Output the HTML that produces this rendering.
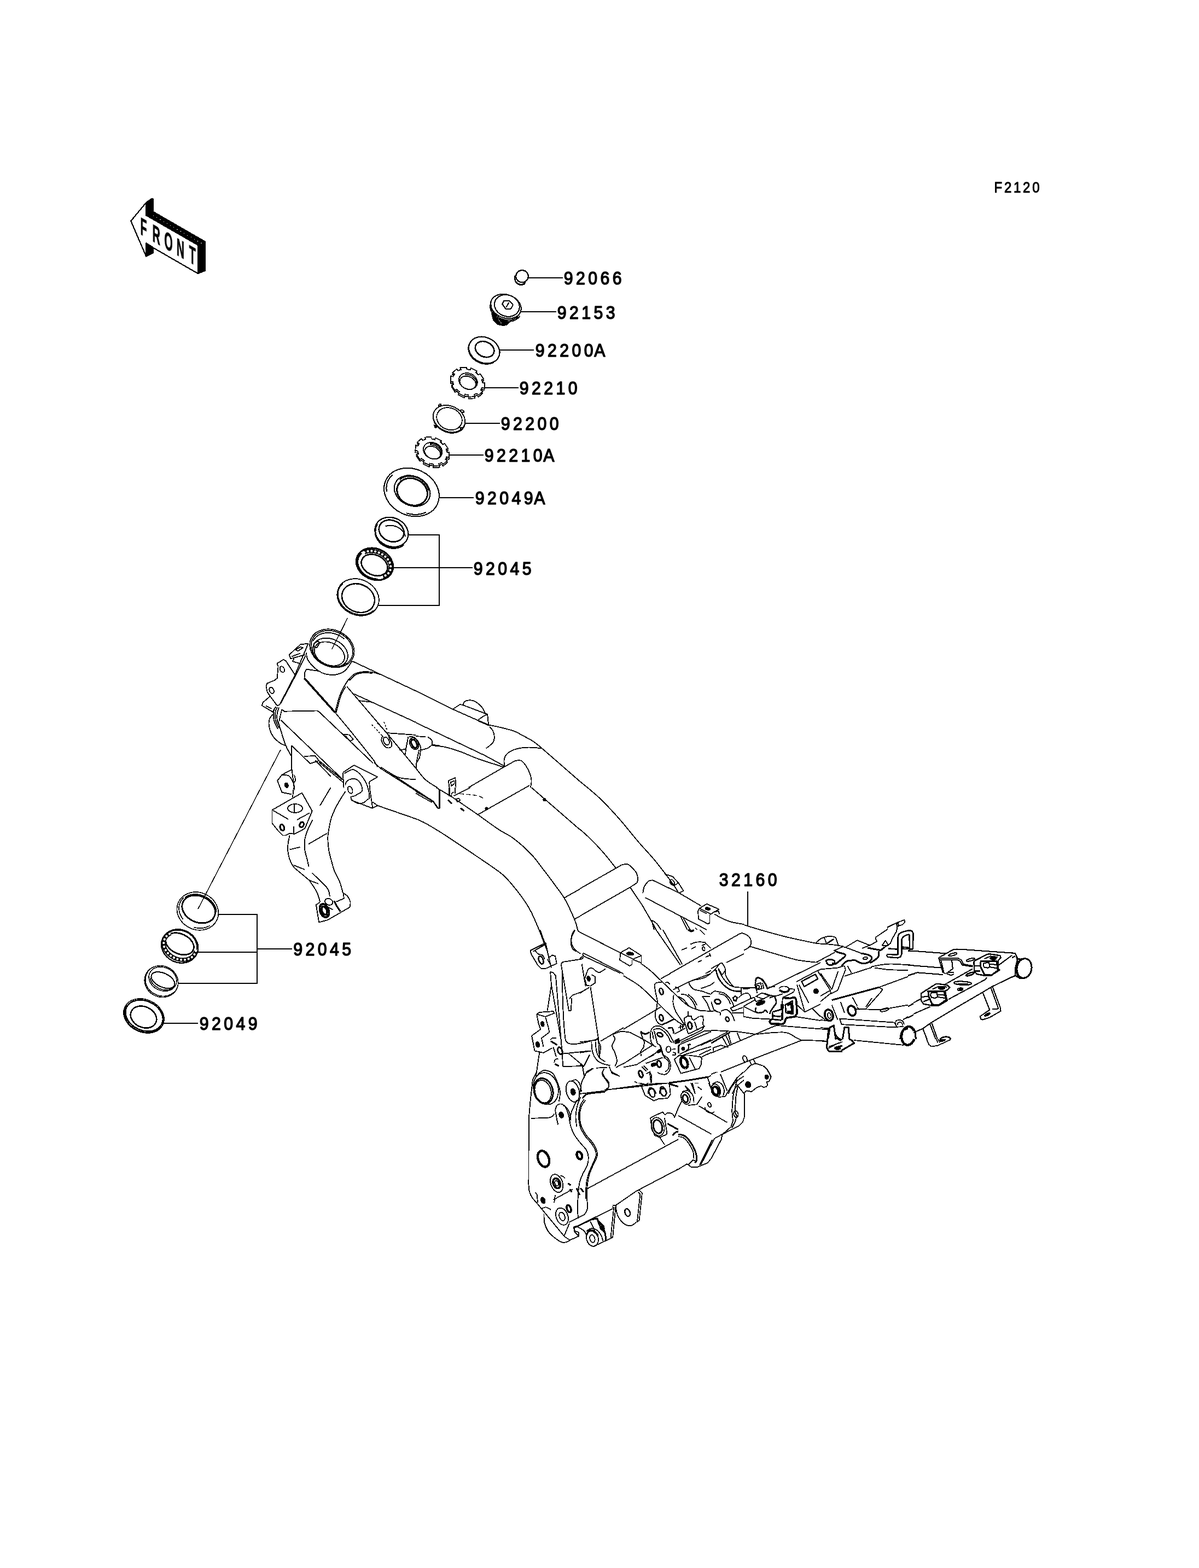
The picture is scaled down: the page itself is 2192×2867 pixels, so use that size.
<!DOCTYPE html>
<html lang="en">
<head>
<meta charset="utf-8">
<title>F2120 Frame</title>
<style>
html,body{margin:0;padding:0;background:#fff;}
body{width:2192px;height:2867px;overflow:hidden;}
svg{display:block;}
.d path,.d ellipse,.d line{fill:none;stroke:#000;stroke-linejoin:round;stroke-linecap:butt;}
.d .f{fill:#000;}
.d .w{fill:#fff;}
text{font-family:"Liberation Sans",sans-serif;fill:#000;}
</style>
</head>
<body>
<svg width="2192" height="2867" viewBox="0 0 2192 2867">
<rect width="2192" height="2867" fill="#fff"/>
<g class="d" shape-rendering="crispEdges" stroke-width="1.83">
<g id="00_leaders">
<path d="M965.0,508.0 L1029.0,508.0" stroke-width="2.0"/>
<path d="M953.0,570.0 L1017.0,570.0" stroke-width="2.0"/>
<path d="M913.0,640.0 L976.0,640.0" stroke-width="2.0"/>
<path d="M886.0,709.0 L948.0,709.0" stroke-width="2.0"/>
<path d="M849.0,774.0 L914.0,774.0" stroke-width="2.0"/>
<path d="M821.0,832.0 L884.0,832.0" stroke-width="2.0"/>
<path d="M802.0,910.0 L866.0,910.0" stroke-width="2.0"/>
<path d="M746.0,978.0 L803.0,978.0 L803.0,1107.0 L691.0,1107.0" stroke-width="2.0"/>
<path d="M718.0,1038.0 L864.0,1038.0" stroke-width="2.0"/>
<path d="M399.0,1672.0 L470.0,1672.0 L470.0,1798.0 L325.0,1798.0" stroke-width="2.0"/>
<path d="M361.0,1741.0 L470.0,1741.0" stroke-width="2.0"/>
<path d="M470.0,1735.0 L534.0,1735.0" stroke-width="2.0"/>
<path d="M298.0,1871.0 L362.0,1871.0" stroke-width="2.0"/>
<path d="M1367.0,1630.0 L1367.0,1694.0" stroke-width="2.0"/>
<path d="M513.0,1371.0 L362.0,1662.0" stroke-width="1.5"/>
</g>
<g id="01_front">
<path class="f" d="M267.1,370.5 L277.9,363.0 L280.0,364.1 L280.0,387.1 L374.8,441.8 L374.8,494.8 L362.0,500.2 L362.0,448.2 L267.1,393.6Z" stroke-width="2.2"/>
<path class="f" d="M267.1,444.5 L280.0,452.5 L280.0,462.1 L267.1,468.6Z" stroke-width="2.2"/>
<path d="M239.3,404.1 L267.1,370.5 L267.1,393.6 L362.0,448.2 L362.0,500.2 L267.1,445.5 L267.1,468.6Z" stroke-width="2.2"/>
<path d="M280,394 L370,446" style="stroke:#fff;stroke-width:1.2;stroke-dasharray:1.2 6"/>
</g>
<g id="02_parts_top">
<path d="M960.8,515.7 C960.6,515.9 960.1,516.5 959.7,516.9 C959.3,517.3 958.9,517.6 958.5,517.9 C958.0,518.2 957.6,518.5 957.1,518.7 C956.6,518.9 956.1,519.1 955.6,519.3 C955.1,519.5 954.6,519.6 954.1,519.7 C953.6,519.8 953.1,519.9 952.5,519.9 C952.0,519.9 951.5,519.9 951.0,519.8 C950.4,519.8 949.9,519.7 949.4,519.5 C948.9,519.4 948.4,519.2 947.9,519.0 C947.4,518.8 946.9,518.6 946.5,518.3 C946.0,518.1 945.6,517.8 945.2,517.4 C944.8,517.1 944.4,516.7 944.0,516.3 C943.6,515.9 943.3,515.5 943.0,515.1 C942.7,514.7 942.4,514.2 942.2,513.7 C941.9,513.2 941.7,512.7 941.5,512.2 C941.3,511.7 941.2,511.2 941.1,510.7 C941.0,510.2 940.9,509.6 940.9,509.1 C940.8,508.5 940.8,508.0 940.9,507.5 C940.9,506.9 941.0,506.4 941.1,505.9 C941.2,505.3 941.4,504.6 941.5,504.3" stroke-width="2.07"/>
<path d="M959.8,518.4 C959.6,518.5 959.0,519.0 958.5,519.3 C958.1,519.6 957.6,519.9 957.1,520.1 C956.6,520.3 956.1,520.5 955.6,520.7 C955.1,520.8 954.5,520.9 954.0,521.0 C953.5,521.1 952.9,521.1 952.4,521.1 C951.9,521.1 951.3,521.0 950.8,520.9 C950.3,520.8 949.7,520.7 949.2,520.5 C948.7,520.4 948.2,520.1 947.7,519.9 C947.3,519.7 946.8,519.4 946.3,519.1 C945.9,518.8 945.5,518.4 945.1,518.0 C944.7,517.7 944.3,517.3 944.0,516.8 C943.6,516.4 943.3,515.9 943.0,515.5 C942.8,515.0 942.5,514.5 942.3,514.0 C942.1,513.5 941.9,512.9 941.8,512.4 C941.7,511.9 941.6,511.3 941.5,510.8 C941.4,510.2 941.4,509.7 941.4,509.1 C941.5,508.6 941.6,507.7 941.6,507.4" stroke-width="2.07"/>
<ellipse cx="954.5" cy="505.2" rx="11.3" ry="11.1" stroke-width="2.28"/>
<path class="f" d="M899.2,574.0 L902.1,584.8 L910.5,593.1 L920.0,595.2 L926.0,593.7 L931.3,588.3 L922.4,586.5 L910.5,582.4 L903.3,577.0Z" stroke-width="2.07"/>
<ellipse cx="924.8" cy="560.1" rx="28.7" ry="21.3" transform="rotate(20 924.8 560.1)" stroke-width="2.07"/>
<ellipse cx="926.8" cy="558.9" rx="23.3" ry="19.4" transform="rotate(20 926.8 558.9)" stroke-width="2.07"/>
<path d="M950.3,578.0 C950.0,578.4 949.0,579.8 948.3,580.6 C947.5,581.4 946.6,582.2 945.7,582.8 C944.8,583.5 943.8,584.2 942.7,584.7 C941.7,585.3 940.5,585.8 939.3,586.2 C938.2,586.6 936.9,586.9 935.7,587.2 C934.4,587.4 933.1,587.6 931.7,587.7 C930.4,587.8 929.0,587.8 927.7,587.7 C926.3,587.6 924.9,587.5 923.5,587.2 C922.2,587.0 920.8,586.7 919.4,586.3 C918.1,585.9 916.7,585.4 915.4,584.9 C914.1,584.3 912.9,583.7 911.6,583.0 C910.4,582.4 909.2,581.6 908.1,580.8 C907.0,580.0 905.9,579.1 904.9,578.2 C903.9,577.3 903.0,576.4 902.2,575.4 C901.3,574.4 900.5,573.3 899.9,572.3 C899.2,571.2 898.6,570.1 898.1,569.0 C897.6,567.9 897.2,566.8 896.9,565.7 C896.6,564.6 896.4,563.4 896.3,562.3 C896.2,561.2 896.2,560.1 896.3,559.0 C896.3,557.9 896.5,556.8 896.8,555.8 C897.1,554.7 897.8,553.3 898.0,552.8" stroke-width="2.07"/>
<path d="M947.2,578.7 C946.8,579.1 945.6,580.2 944.7,580.9 C943.7,581.5 942.7,582.1 941.7,582.6 C940.7,583.1 939.5,583.6 938.4,584.0 C937.2,584.4 936.0,584.7 934.8,584.9 C933.6,585.1 932.3,585.3 931.0,585.3 C929.7,585.4 928.4,585.4 927.1,585.3 C925.8,585.2 924.5,585.0 923.2,584.8 C921.8,584.5 920.5,584.2 919.2,583.8 C918.0,583.4 916.7,582.9 915.5,582.3 C914.2,581.8 913.0,581.2 911.9,580.5 C910.7,579.8 909.6,579.1 908.6,578.3 C907.5,577.5 906.5,576.6 905.6,575.7 C904.7,574.9 903.9,573.9 903.1,572.9 C902.3,572.0 901.6,570.9 901.0,569.9 C900.4,568.9 899.9,567.8 899.5,566.7 C899.0,565.6 898.7,564.5 898.5,563.4 C898.2,562.3 898.1,561.2 898.0,560.2 C897.9,559.1 898.1,557.5 898.1,556.9" stroke-width="2.07"/>
<path d="M918.2,556.2 L921.2,550.2 L930.7,549.6 L937.9,557.4 L934.3,564.5 L924.8,564.8Z" stroke-width="2.07"/>
<path d="M930.1,553.2 L925.4,562.1" stroke-width="2.07"/>
<path d="M911,584 L917,592" style="stroke:#fff;stroke-width:1;stroke-dasharray:1 1.5"/>
<ellipse cx="885.2" cy="640.1" rx="29.3" ry="23.2" transform="rotate(25 885.2 640.1)" stroke-width="2.28"/>
<ellipse cx="886.1" cy="638.6" rx="17.9" ry="13.7" transform="rotate(25 886.1 638.6)" stroke-width="2.7"/>
<path d="M902.6,662.5 C902.1,662.8 900.5,663.6 899.4,664.0 C898.3,664.4 897.1,664.8 895.9,665.1 C894.6,665.3 893.4,665.5 892.1,665.6 C890.8,665.7 889.5,665.7 888.2,665.7 C886.9,665.6 885.5,665.5 884.2,665.3 C882.9,665.1 881.5,664.8 880.2,664.4 C878.9,664.0 877.6,663.6 876.3,663.0 C875.1,662.5 873.8,661.9 872.6,661.3 C871.4,660.6 870.2,659.9 869.1,659.1 C868.0,658.3 866.9,657.4 865.9,656.5 C864.9,655.6 864.0,654.7 863.1,653.7 C862.3,652.7 861.5,651.7 860.8,650.6 C860.0,649.6 859.4,648.5 858.8,647.3 C858.3,646.2 857.8,645.1 857.5,644.0 C857.1,642.8 856.8,641.7 856.6,640.5 C856.4,639.4 856.3,638.2 856.3,637.1 C856.3,636.0 856.4,634.8 856.6,633.7 C856.8,632.7 857.0,631.6 857.4,630.6 C857.8,629.5 858.2,628.5 858.8,627.6 C859.3,626.6 860.0,625.7 860.7,624.9 C861.4,624.0 862.6,622.9 863.0,622.5" stroke-width="2.07"/>
<path d="M882.6,718.8 L874.8,725.7 L872.2,722.6 L866.7,724.8 L868.5,728.3 L856.6,729.1 L856.4,725.6 L849.9,724.3 L849.1,727.6 L837.8,722.1 L840.0,719.5 L835.0,715.1 L832.0,717.1 L825.5,707.3 L829.3,706.6 L827.7,701.0 L823.6,700.8 L824.4,690.5 L828.3,692.0 L830.8,687.2 L827.1,685.0 L834.9,678.1 L837.5,681.2 L843.1,679.0 L841.3,675.6 L853.1,674.7 L853.3,678.2 L859.9,679.6 L860.6,676.2 L872.0,681.7 L869.7,684.4 L874.8,688.7 L877.8,686.7 L884.3,696.5 L880.5,697.2 L882.1,702.8 L886.2,703.0 L885.4,713.3 L881.4,711.8 L879.0,716.6Z" stroke-width="1.83"/>
<path class="w" d="M882.6,715.6 L874.8,722.5 L872.2,719.4 L866.7,721.6 L868.5,725.0 L856.6,725.9 L856.4,722.4 L849.9,721.0 L849.1,724.4 L837.8,718.9 L840.0,716.2 L835.0,711.9 L832.0,713.9 L825.5,704.1 L829.3,703.4 L827.7,697.8 L823.6,697.6 L824.4,687.3 L828.3,688.8 L830.8,684.0 L827.1,681.7 L834.9,674.8 L837.5,677.9 L843.1,675.8 L841.3,672.3 L853.1,671.5 L853.3,675.0 L859.9,676.3 L860.6,673.0 L872.0,678.5 L869.7,681.1 L874.8,685.4 L877.8,683.5 L884.3,693.3 L880.5,694.0 L882.1,699.6 L886.2,699.8 L885.4,710.1 L881.4,708.6 L879.0,713.4Z" stroke-width="1.83"/>
<ellipse cx="855.8" cy="696.9" rx="17.5" ry="14.2" transform="rotate(25 855.8 696.9)" stroke-width="1.83"/>
<ellipse cx="855.2" cy="699.9" rx="15.2" ry="11.5" transform="rotate(25 855.2 699.9)" stroke-width="1.83"/>
<path d="M850.3,685.0 C850.6,684.9 851.7,684.8 852.4,684.8 C853.2,684.7 853.9,684.8 854.7,684.9 C855.4,684.9 856.2,685.1 856.9,685.2 C857.7,685.4 858.4,685.6 859.2,685.9 C859.9,686.1 860.6,686.4 861.3,686.8 C862.0,687.1 862.7,687.5 863.4,687.9 C864.0,688.3 864.7,688.7 865.3,689.2 C865.9,689.7 866.4,690.2 866.9,690.8 C867.5,691.3 868.0,691.9 868.4,692.5 C868.8,693.0 869.2,693.6 869.6,694.3 C869.9,694.9 870.3,695.5 870.5,696.2 C870.8,696.8 871.0,697.5 871.1,698.1 C871.3,698.8 871.4,699.4 871.4,700.1 C871.4,700.7 871.4,701.3 871.4,702.0 C871.3,702.6 871.2,703.2 871.0,703.8 C870.8,704.4 870.6,705.0 870.4,705.6 C870.1,706.1 869.8,706.7 869.4,707.2 C869.0,707.7 868.6,708.1 868.1,708.6 C867.7,709.0 867.2,709.4 866.6,709.8 C866.1,710.1 865.5,710.5 864.9,710.8 C864.3,711.0 863.7,711.3 863.0,711.5 C862.3,711.7 861.3,711.9 860.9,712.0" stroke-width="1.83"/>
<ellipse cx="821.0" cy="767.1" rx="30.3" ry="23.3" transform="rotate(25 821.0 767.1)" stroke-width="1.83"/>
<ellipse class="w" cx="821.0" cy="765.7" rx="30.3" ry="23.3" transform="rotate(25 821.0 765.7)" stroke-width="1.83"/>
<ellipse cx="821.5" cy="765.7" rx="23.9" ry="19.7" transform="rotate(25 821.5 765.7)" stroke-width="1.83"/>
<path d="M801.3,742.1 L803.7,738.6 L806.1,739.2 L806.7,742.1Z" stroke-width="1.83"/>
<path d="M840.6,750.5 L844.8,749.3 L848.3,752.3 L847.7,754.6 L843.6,754.0Z" stroke-width="1.83"/>
<path d="M793.6,777.3 L796.5,779.0 L798.3,781.4 L796.0,782.6Z" stroke-width="1.83"/>
<path d="M841.2,782.0 L844.8,781.4 L846.0,783.8 L842.4,786.2Z" stroke-width="1.83"/>
<path d="M817.9,845.4 L810.2,852.1 L807.6,849.1 L802.2,851.2 L803.9,854.5 L792.3,855.3 L792.0,851.8 L785.5,850.5 L784.8,853.7 L773.5,848.3 L775.7,845.7 L770.7,841.5 L767.8,843.4 L761.2,833.8 L765.0,833.1 L763.4,827.6 L759.3,827.4 L760.0,817.4 L764.0,818.8 L766.3,814.1 L762.7,811.9 L770.4,805.3 L773.0,808.3 L778.4,806.2 L776.6,802.9 L788.3,802.1 L788.6,805.6 L795.1,806.9 L795.8,803.6 L807.0,809.1 L804.9,811.7 L809.9,815.9 L812.8,814.0 L819.4,823.6 L815.6,824.3 L817.2,829.8 L821.3,830.0 L820.6,840.0 L816.6,838.6 L814.3,843.3Z" stroke-width="1.83"/>
<path class="w" d="M817.9,842.2 L810.2,848.9 L807.6,845.9 L802.2,848.0 L803.9,851.3 L792.3,852.1 L792.0,848.6 L785.5,847.3 L784.8,850.5 L773.5,845.1 L775.7,842.5 L770.7,838.3 L767.8,840.2 L761.2,830.6 L765.0,829.9 L763.4,824.4 L759.3,824.2 L760.0,814.1 L764.0,815.6 L766.3,810.9 L762.7,808.7 L770.4,802.0 L773.0,805.1 L778.4,803.0 L776.6,799.6 L788.3,798.9 L788.6,802.3 L795.1,803.7 L795.8,800.4 L807.0,805.9 L804.9,808.4 L809.9,812.7 L812.8,810.8 L819.4,820.4 L815.6,821.0 L817.2,826.6 L821.3,826.7 L820.6,836.8 L816.6,835.3 L814.3,840.1Z" stroke-width="1.83"/>
<ellipse cx="791.2" cy="824.0" rx="17.8" ry="14.5" transform="rotate(25 791.2 824.0)" stroke-width="1.83"/>
<ellipse cx="790.8" cy="827.7" rx="15.1" ry="10.9" transform="rotate(25 790.8 827.7)" stroke-width="1.83"/>
<path d="M785.7,811.2 C786.1,811.1 787.2,811.0 788.0,811.0 C788.8,810.9 789.6,811.0 790.3,811.1 C791.1,811.1 791.9,811.3 792.7,811.4 C793.5,811.6 794.3,811.8 795.0,812.1 C795.8,812.4 796.6,812.7 797.3,813.0 C798.0,813.4 798.7,813.8 799.4,814.2 C800.1,814.7 800.8,815.1 801.4,815.6 C802.0,816.1 802.6,816.7 803.2,817.2 C803.7,817.8 804.2,818.4 804.7,819.0 C805.1,819.6 805.6,820.2 805.9,820.9 C806.3,821.5 806.6,822.2 806.9,822.9 C807.2,823.5 807.4,824.2 807.5,824.9 C807.7,825.6 807.8,826.3 807.8,826.9 C807.9,827.6 807.9,828.3 807.8,828.9 C807.7,829.6 807.6,830.2 807.4,830.9 C807.3,831.5 807.0,832.1 806.7,832.7 C806.5,833.2 806.1,833.8 805.7,834.3 C805.3,834.9 804.9,835.3 804.4,835.8 C803.9,836.3 803.4,836.7 802.9,837.1 C802.3,837.4 801.7,837.8 801.0,838.1 C800.4,838.4 799.7,838.6 799.0,838.8 C798.4,839.1 797.2,839.2 796.9,839.3" stroke-width="1.83"/>
<path d="M785.6,813.5 C786.0,813.5 787.0,813.3 787.7,813.3 C788.5,813.3 789.2,813.4 789.9,813.5 C790.7,813.5 791.4,813.7 792.2,813.8 C792.9,814.0 793.6,814.2 794.4,814.5 C795.1,814.7 795.8,815.0 796.5,815.4 C797.2,815.7 797.9,816.1 798.5,816.5 C799.2,816.9 799.8,817.3 800.4,817.8 C801.0,818.3 801.6,818.8 802.1,819.3 C802.6,819.8 803.1,820.4 803.5,820.9 C804.0,821.5 804.4,822.1 804.8,822.7 C805.1,823.3 805.4,823.9 805.7,824.5 C805.9,825.1 806.1,825.8 806.3,826.4 C806.5,827.0 806.6,827.6 806.6,828.2 C806.7,828.9 806.7,829.5 806.6,830.1 C806.6,830.7 806.5,831.3 806.3,831.8 C806.2,832.4 805.9,832.9 805.7,833.5 C805.4,834.0 805.1,834.5 804.8,835.0 C804.4,835.4 804.0,835.9 803.6,836.3 C803.1,836.7 802.6,837.1 802.1,837.4 C801.6,837.8 801.0,838.1 800.4,838.3 C799.8,838.6 799.2,838.8 798.6,839.0 C797.9,839.2 796.9,839.3 796.5,839.4" stroke-width="1.83"/>
<ellipse cx="752.5" cy="900.0" rx="51.9" ry="42.4" transform="rotate(25 752.5 900.0)" stroke-width="2.07"/>
<path d="M778.6,936.7 C777.7,937.1 775.1,938.2 773.3,938.7 C771.5,939.3 769.5,939.7 767.6,940.1 C765.7,940.4 763.7,940.6 761.7,940.7 C759.7,940.8 757.6,940.7 755.6,940.6 C753.5,940.4 751.4,940.2 749.4,939.8 C747.3,939.4 744.3,938.5 743.3,938.3" stroke-width="2.07"/>
<path d="M707.1,899.3 C707.0,898.3 706.5,895.4 706.4,893.5 C706.4,891.5 706.5,889.6 706.8,887.8 C707.0,885.9 707.5,884.0 708.1,882.3 C708.7,880.5 709.4,878.8 710.3,877.2 C711.3,875.6 712.3,874.0 713.5,872.6 C714.7,871.1 716.9,869.2 717.5,868.5" stroke-width="2.07"/>
<ellipse cx="753.6" cy="897.5" rx="34.0" ry="26.8" transform="rotate(25 753.6 897.5)" stroke-width="2.07"/>
<ellipse cx="753.6" cy="899.3" rx="28.6" ry="24.1" transform="rotate(25 753.6 899.3)" stroke-width="3.11"/>
<path d="M730.4,877.2 C730.9,876.8 732.4,875.6 733.5,874.9 C734.6,874.2 735.7,873.6 737.0,873.1 C738.2,872.6 739.5,872.1 740.8,871.8 C742.1,871.4 743.5,871.2 744.9,871.0 C746.2,870.8 747.7,870.7 749.1,870.7 C750.5,870.7 752.0,870.8 753.4,871.0 C754.9,871.2 756.4,871.5 757.8,871.8 C759.2,872.2 760.7,872.6 762.0,873.2 C763.4,873.7 764.8,874.3 766.1,875.0 C767.5,875.7 768.7,876.5 770.0,877.3 C771.2,878.1 772.4,879.0 773.5,880.0 C774.6,881.0 775.6,882.0 776.6,883.1 C777.5,884.2 778.4,885.3 779.2,886.4 C780.0,887.6 780.7,888.8 781.4,890.0 C782.0,891.3 782.5,892.5 782.9,893.8 C783.4,895.1 783.7,897.0 783.9,897.6" stroke-width="2.07"/>
<ellipse cx="715.9" cy="972.9" rx="31.4" ry="26.1" transform="rotate(25 715.9 972.9)" stroke-width="2.28"/>
<path d="M738.4,996.1 C737.9,996.5 736.4,997.8 735.4,998.4 C734.3,999.1 733.1,999.8 731.9,1000.3 C730.7,1000.8 729.5,1001.3 728.2,1001.7 C726.9,1002.1 725.5,1002.3 724.2,1002.5 C722.8,1002.7 721.4,1002.8 720.0,1002.9 C718.6,1002.9 717.2,1002.8 715.8,1002.6 C714.4,1002.5 712.9,1002.2 711.5,1001.9 C710.1,1001.5 708.7,1001.1 707.4,1000.6 C706.0,1000.1 704.7,999.5 703.4,998.8 C702.1,998.2 700.8,997.4 699.6,996.6 C698.4,995.8 697.3,994.9 696.2,993.9 C695.2,993.0 694.1,992.0 693.2,990.9 C692.3,989.9 691.4,988.7 690.6,987.6 C689.9,986.5 689.2,985.3 688.6,984.0 C688.0,982.8 687.4,981.6 687.0,980.3 C686.6,979.1 686.3,977.8 686.1,976.5 C685.9,975.2 685.7,974.0 685.7,972.7 C685.7,971.4 685.8,970.2 686.0,968.9 C686.1,967.7 686.4,966.5 686.8,965.3 C687.2,964.1 687.6,963.0 688.2,961.9 C688.8,960.8 689.9,959.2 690.2,958.7" stroke-width="2.07"/>
<path d="M729.8,999.6 C729.2,999.7 727.3,1000.4 726.0,1000.7 C724.7,1001.0 723.4,1001.2 722.0,1001.3 C720.7,1001.4 719.3,1001.5 717.9,1001.4 C716.5,1001.3 715.1,1001.2 713.7,1000.9 C712.3,1000.7 710.9,1000.4 709.6,1000.0 C708.2,999.5 706.8,999.0 705.5,998.5 C704.2,997.9 703.0,997.2 701.7,996.5 C700.5,995.8 699.3,995.0 698.2,994.1 C697.1,993.2 696.1,992.3 695.1,991.3 C694.1,990.3 693.2,989.2 692.3,988.1 C691.5,987.1 690.7,985.9 690.1,984.7 C689.4,983.6 688.8,982.4 688.3,981.1 C687.8,979.9 687.4,978.7 687.1,977.4 C686.8,976.1 686.6,974.9 686.5,973.6 C686.4,972.3 686.4,971.1 686.5,969.8 C686.6,968.6 687.0,966.8 687.1,966.2" stroke-width="2.07"/>
<ellipse cx="715.7" cy="970.7" rx="23.6" ry="19.1" transform="rotate(25 715.7 970.7)" stroke-width="2.7"/>
<path d="M704.8,962.4 C705.3,962.2 706.7,961.7 707.6,961.4 C708.6,961.2 709.7,961.0 710.7,960.9 C711.8,960.8 712.8,960.7 713.9,960.7 C715.0,960.7 716.1,960.8 717.2,961.0 C718.3,961.1 719.5,961.3 720.6,961.6 C721.7,961.9 722.8,962.2 723.8,962.6 C724.9,963.0 726.0,963.5 727.0,964.0 C728.0,964.5 729.0,965.1 730.0,965.8 C730.9,966.4 731.8,967.1 732.7,967.8 C733.6,968.5 734.4,969.3 735.2,970.1 C735.9,970.9 736.6,971.7 737.2,972.6 C737.9,973.4 738.5,974.3 739.0,975.2 C739.4,976.1 739.9,977.0 740.2,978.0 C740.6,978.9 740.9,980.3 741.1,980.8" stroke-width="2.07"/>
<ellipse cx="685.0" cy="1031.4" rx="34.7" ry="28.0" transform="rotate(25 685.0 1031.4)" stroke-width="3.11"/>
<ellipse cx="684.6" cy="1033.2" rx="25.0" ry="18.3" transform="rotate(25 684.6 1033.2)" stroke-width="2.7"/>
<path d="M690.5,1059.3 C689.7,1059.2 687.5,1059.1 686.0,1058.9 C684.5,1058.7 683.0,1058.4 681.5,1058.1 C680.0,1057.7 678.5,1057.2 677.1,1056.6 C675.6,1056.1 674.2,1055.4 672.8,1054.7 C671.4,1054.0 670.0,1053.2 668.8,1052.4 C667.5,1051.5 666.2,1050.6 665.1,1049.6 C663.9,1048.6 662.8,1047.5 661.8,1046.5 C660.8,1045.4 659.8,1044.2 659.0,1043.0 C658.2,1041.9 657.4,1040.6 656.7,1039.4 C656.1,1038.2 655.5,1036.9 655.1,1035.6 C654.6,1034.4 654.2,1033.1 654.0,1031.8 C653.8,1030.5 653.6,1029.2 653.6,1028.0 C653.5,1026.7 653.6,1025.4 653.8,1024.2 C654.0,1023.0 654.3,1021.8 654.7,1020.7 C655.1,1019.5 655.6,1018.4 656.2,1017.3 C656.8,1016.3 657.5,1015.3 658.3,1014.3 C659.0,1013.4 660.5,1012.1 660.9,1011.7" stroke-width="3.11"/>
<ellipse cx="654.6" cy="1092.0" rx="39.4" ry="32.4" transform="rotate(25 654.6 1092.0)" stroke-width="1.83"/>
<path d="M682.8,1116.5 C682.2,1117.0 680.5,1118.4 679.1,1119.2 C677.8,1120.0 676.4,1120.7 674.9,1121.3 C673.5,1121.9 671.9,1122.5 670.3,1122.9 C668.7,1123.3 667.1,1123.6 665.4,1123.7 C663.7,1123.9 662.0,1124.0 660.3,1124.0 C658.5,1124.0 656.8,1123.8 655.0,1123.6 C653.3,1123.3 651.5,1123.0 649.8,1122.5 C648.0,1122.1 646.3,1121.5 644.6,1120.9 C642.9,1120.2 641.3,1119.4 639.7,1118.6 C638.1,1117.7 636.5,1116.8 635.0,1115.8 C633.5,1114.8 632.1,1113.6 630.8,1112.5 C629.4,1111.3 628.2,1110.0 627.0,1108.8 C625.9,1107.5 624.8,1106.1 623.8,1104.7 C622.9,1103.3 622.0,1101.8 621.3,1100.4 C620.6,1098.9 619.9,1097.4 619.4,1095.9 C618.9,1094.4 618.5,1092.8 618.3,1091.3 C618.0,1089.8 617.9,1088.2 617.9,1086.7 C617.8,1085.2 618.0,1083.7 618.2,1082.3 C618.4,1080.8 618.8,1079.4 619.3,1078.0 C619.8,1076.6 620.4,1075.3 621.1,1074.0 C621.8,1072.7 622.7,1071.5 623.6,1070.4 C624.5,1069.2 626.2,1067.7 626.7,1067.2" stroke-width="1.83"/>
<ellipse cx="655.0" cy="1093.6" rx="30.9" ry="25.3" transform="rotate(25 655.0 1093.6)" stroke-width="2.56"/>
<path d="M635.3,1130.0 L607.1,1186.4" stroke-width="1.66"/>
</g>
<g id="03_parts_low">
<ellipse cx="361.4" cy="1665.9" rx="38.7" ry="33.9" transform="rotate(25 361.4 1665.9)" stroke-width="1.66"/>
<path d="M383.6,1692.4 C382.9,1692.7 380.8,1693.9 379.3,1694.5 C377.9,1695.1 376.3,1695.7 374.7,1696.1 C373.1,1696.5 371.5,1696.8 369.8,1696.9 C368.1,1697.1 366.4,1697.2 364.7,1697.1 C363.0,1697.1 361.3,1696.9 359.6,1696.6 C357.9,1696.4 355.3,1695.7 354.5,1695.5" stroke-width="1.66"/>
<path d="M334.6,1680.7 C334.2,1680.0 332.7,1678.1 331.9,1676.8 C331.1,1675.5 330.3,1674.1 329.7,1672.7 C329.1,1671.3 328.6,1669.9 328.2,1668.4 C327.8,1667.0 327.5,1665.5 327.4,1664.1 C327.2,1662.6 327.1,1661.1 327.2,1659.7 C327.2,1658.3 327.4,1656.8 327.6,1655.5 C327.9,1654.1 328.3,1652.7 328.8,1651.4 C329.3,1650.0 329.9,1648.8 330.6,1647.5 C331.3,1646.3 332.1,1645.1 333.0,1644.0 C333.9,1642.9 335.4,1641.5 335.9,1640.9" stroke-width="1.66"/>
<ellipse cx="363.2" cy="1662.5" rx="31.6" ry="23.8" transform="rotate(25 363.2 1662.5)" stroke-width="2.9"/>
<path d="M337.7,1641.4 C338.3,1641.0 339.9,1639.8 341.0,1639.1 C342.2,1638.4 343.5,1637.7 344.8,1637.2 C346.1,1636.7 347.5,1636.3 348.9,1635.9 C350.3,1635.6 351.8,1635.3 353.3,1635.2 C354.8,1635.0 356.4,1635.0 357.9,1635.0 C359.5,1635.1 361.0,1635.2 362.6,1635.4 C364.2,1635.7 365.8,1636.0 367.3,1636.4 C368.9,1636.8 370.4,1637.4 371.9,1638.0 C373.4,1638.6 374.9,1639.3 376.4,1640.0 C377.8,1640.8 379.2,1641.7 380.5,1642.6 C381.8,1643.5 383.1,1644.5 384.3,1645.6 C385.5,1646.6 386.6,1647.7 387.6,1648.9 C388.7,1650.0 389.6,1651.3 390.5,1652.5 C391.3,1653.8 392.1,1655.1 392.7,1656.4 C393.4,1657.7 393.9,1659.0 394.4,1660.4 C394.8,1661.7 395.2,1663.1 395.4,1664.4 C395.6,1665.7 395.7,1667.8 395.7,1668.4" stroke-width="1.66"/>
<ellipse cx="328.6" cy="1730.0" rx="34.3" ry="29.9" transform="rotate(25 328.6 1730.0)" stroke-width="2.28"/>
<ellipse cx="328.6" cy="1725.7" rx="27.1" ry="18.1" transform="rotate(25 328.6 1725.7)" stroke-width="2.7"/>
<path d="M305.2,1707.9 C305.7,1707.5 307.3,1706.1 308.5,1705.4 C309.6,1704.6 310.9,1704.0 312.2,1703.4 C313.5,1702.8 314.8,1702.3 316.2,1701.9 C317.6,1701.5 319.1,1701.2 320.6,1701.0 C322.0,1700.8 323.5,1700.7 325.0,1700.7 C326.6,1700.7 328.1,1700.8 329.6,1701.0 C331.1,1701.2 332.7,1701.5 334.1,1701.9 C335.6,1702.3 337.1,1702.8 338.6,1703.4 C340.0,1704.0 341.4,1704.7 342.8,1705.4 C344.1,1706.2 345.5,1707.1 346.7,1708.0 C347.9,1708.9 349.1,1709.9 350.2,1711.0 C351.3,1712.0 352.4,1713.1 353.3,1714.3 C354.2,1715.5 355.1,1716.7 355.9,1718.0 C356.6,1719.3 357.3,1720.6 357.8,1721.9 C358.4,1723.3 358.8,1724.6 359.2,1726.0 C359.5,1727.4 359.8,1728.8 359.9,1730.2 C360.0,1731.5 360.0,1732.9 359.9,1734.3 C359.8,1735.6 359.4,1737.6 359.3,1738.3" stroke-width="1.66"/>
<ellipse cx="295.0" cy="1794.6" rx="31.2" ry="28.4" transform="rotate(25 295.0 1794.6)" stroke-width="1.66"/>
<path d="M317.3,1814.5 C316.8,1814.9 315.4,1816.1 314.3,1816.9 C313.3,1817.6 312.1,1818.2 310.9,1818.8 C309.7,1819.3 308.5,1819.8 307.2,1820.2 C305.9,1820.5 304.6,1820.8 303.3,1821.1 C301.9,1821.3 300.6,1821.4 299.2,1821.4 C297.8,1821.5 296.4,1821.4 295.0,1821.2 C293.6,1821.1 292.2,1820.9 290.8,1820.5 C289.5,1820.2 288.1,1819.8 286.8,1819.3 C285.4,1818.8 284.1,1818.2 282.8,1817.5 C281.6,1816.9 280.3,1816.2 279.2,1815.3 C278.0,1814.5 276.9,1813.7 275.8,1812.7 C274.8,1811.8 273.8,1810.8 272.9,1809.7 C272.0,1808.7 271.1,1807.6 270.4,1806.4 C269.6,1805.3 269.0,1804.1 268.4,1802.9 C267.8,1801.7 267.3,1800.4 266.9,1799.2 C266.5,1797.9 266.2,1796.7 266.0,1795.4 C265.8,1794.1 265.7,1792.8 265.7,1791.6 C265.7,1790.3 265.8,1789.0 266.0,1787.8 C266.2,1786.5 266.5,1785.3 266.9,1784.1 C267.2,1783.0 267.7,1781.8 268.3,1780.7 C268.8,1779.6 269.9,1778.0 270.3,1777.5" stroke-width="1.66"/>
<ellipse cx="297.5" cy="1790.0" rx="26.2" ry="21.2" transform="rotate(25 297.5 1790.0)" stroke-width="1.66"/>
<ellipse cx="297.9" cy="1792.1" rx="22.9" ry="12.6" transform="rotate(25 297.9 1792.1)" stroke-width="2.07"/>
<path d="M316.2,1806.0 C315.9,1806.3 314.8,1807.1 313.9,1807.6 C313.1,1808.0 312.2,1808.4 311.3,1808.7 C310.4,1809.1 309.4,1809.3 308.4,1809.5 C307.4,1809.7 306.3,1809.9 305.3,1809.9 C304.2,1810.0 303.1,1810.0 302.0,1810.0 C300.9,1809.9 299.7,1809.8 298.6,1809.6 C297.5,1809.4 296.4,1809.1 295.2,1808.8 C294.1,1808.5 293.0,1808.1 291.9,1807.7 C290.8,1807.2 289.7,1806.7 288.7,1806.2 C287.7,1805.6 286.7,1805.0 285.7,1804.3 C284.7,1803.7 283.8,1803.0 282.9,1802.3 C282.0,1801.5 281.2,1800.7 280.5,1799.9 C279.7,1799.1 279.0,1798.3 278.4,1797.4 C277.7,1796.5 277.2,1795.6 276.7,1794.7 C276.2,1793.8 275.7,1792.9 275.4,1792.0 C275.1,1791.1 274.8,1790.1 274.6,1789.2 C274.4,1788.3 274.3,1786.9 274.3,1786.5" stroke-width="1.66"/>
<ellipse cx="263.0" cy="1857.5" rx="38.4" ry="29.8" transform="rotate(25 263.0 1857.5)" stroke-width="1.66"/>
<ellipse cx="263.6" cy="1857.1" rx="35.7" ry="26.8" transform="rotate(25 263.6 1857.1)" stroke-width="2.59"/>
<path d="M294.6,1877.6 C294.1,1878.1 292.8,1879.7 291.7,1880.6 C290.7,1881.6 289.5,1882.4 288.3,1883.2 C287.1,1884.0 285.8,1884.7 284.4,1885.2 C283.0,1885.8 281.5,1886.3 280.0,1886.7 C278.5,1887.1 276.9,1887.4 275.3,1887.6 C273.7,1887.8 272.0,1887.9 270.3,1887.9 C268.6,1887.8 266.9,1887.7 265.2,1887.5 C263.5,1887.3 261.8,1887.0 260.1,1886.5 C258.4,1886.1 256.6,1885.6 255.0,1885.0 C253.3,1884.4 251.7,1883.7 250.1,1882.9 C248.5,1882.1 246.9,1881.2 245.4,1880.2 C243.9,1879.3 242.5,1878.2 241.1,1877.2 C239.8,1876.1 238.5,1874.9 237.3,1873.7 C236.1,1872.4 235.0,1871.2 234.0,1869.8 C233.0,1868.5 232.1,1867.2 231.3,1865.8 C230.5,1864.4 229.8,1863.0 229.2,1861.5 C228.6,1860.1 228.2,1858.6 227.8,1857.2 C227.5,1855.8 227.3,1854.3 227.2,1852.9 C227.1,1851.5 227.1,1850.0 227.3,1848.7 C227.4,1847.3 227.7,1845.9 228.1,1844.6 C228.5,1843.3 229.0,1842.0 229.6,1840.8 C230.2,1839.6 231.5,1838.0 231.8,1837.4" stroke-width="1.66"/>
<ellipse cx="262.5" cy="1859.6" rx="24.7" ry="18.9" transform="rotate(25 262.5 1859.6)" stroke-width="2.59"/>
</g>
<g id="04_balls">
<path d="M665.9,1010.1 L667.5,1009.4 L669.1,1008.8 L670.8,1008.3 L672.6,1007.9 L674.4,1007.6 L676.3,1007.5 L678.3,1007.4 L680.2,1007.5 L682.2,1007.7 L684.3,1008.0 L686.3,1008.4 L688.3,1008.9 L690.3,1009.5 L692.2,1010.2 L694.2,1011.1 L696.1,1012.0 L697.9,1013.0 L699.7,1014.1 L701.4,1015.3 L703.0,1016.6 L704.6,1017.9 L706.0,1019.3 L707.4,1020.7 L708.6,1022.2 L709.8,1023.8 L710.8,1025.3 L711.7,1026.9 L712.4,1028.6 L713.1,1030.2 L713.6,1031.8 L714.0,1033.5 L714.2,1035.1 L714.3,1036.7 L714.2,1038.3 L714.1,1039.9 L713.7,1041.4 L713.3,1042.8 L712.7,1044.2 L712.0,1045.6 L711.1,1046.9 L710.1,1048.1 L709.0,1049.2 L707.8,1050.2 L706.5,1051.1 L705.1,1052.0 L703.6,1052.7 L702.0,1053.4 L700.3,1053.9" style="stroke:#000;stroke-width:7.5;shape-rendering:auto"/>
<path d="M665.9,1010.1 L667.5,1009.4 L669.1,1008.8 L670.8,1008.3 L672.6,1007.9 L674.4,1007.6 L676.3,1007.5 L678.3,1007.4 L680.2,1007.5 L682.2,1007.7 L684.3,1008.0 L686.3,1008.4 L688.3,1008.9 L690.3,1009.5 L692.2,1010.2 L694.2,1011.1 L696.1,1012.0 L697.9,1013.0 L699.7,1014.1 L701.4,1015.3 L703.0,1016.6 L704.6,1017.9 L706.0,1019.3 L707.4,1020.7 L708.6,1022.2 L709.8,1023.8 L710.8,1025.3 L711.7,1026.9 L712.4,1028.6 L713.1,1030.2 L713.6,1031.8 L714.0,1033.5 L714.2,1035.1 L714.3,1036.7 L714.2,1038.3 L714.1,1039.9 L713.7,1041.4 L713.3,1042.8 L712.7,1044.2 L712.0,1045.6 L711.1,1046.9 L710.1,1048.1 L709.0,1049.2 L707.8,1050.2 L706.5,1051.1 L705.1,1052.0 L703.6,1052.7 L702.0,1053.4 L700.3,1053.9" style="stroke:#fff;stroke-width:4.2;stroke-dasharray:0.1 6.8;stroke-linecap:round;shape-rendering:auto"/>
<path d="M358.1,1738.6 L357.6,1740.6 L356.9,1742.4 L356.0,1744.1 L354.9,1745.8 L353.7,1747.3 L352.2,1748.8 L350.7,1750.1 L348.9,1751.2 L347.1,1752.2 L345.1,1753.1 L343.0,1753.8 L340.9,1754.4 L338.6,1754.7 L336.3,1755.0 L333.9,1755.0 L331.5,1754.9 L329.1,1754.6 L326.6,1754.1 L324.2,1753.5 L321.9,1752.7 L319.5,1751.8 L317.3,1750.7 L315.1,1749.5 L313.0,1748.1 L311.0,1746.6 L309.1,1745.0 L307.4,1743.3 L305.8,1741.5 L304.4,1739.7 L303.1,1737.7 L302.0,1735.7 L301.1,1733.7 L300.3,1731.6 L299.8,1729.6 L299.4,1727.5 L299.3,1725.4 L299.3,1723.4 L299.6,1721.4 L300.0,1719.5 L300.7,1717.6 L301.5,1715.8 L302.5,1714.1 L303.7,1712.6 L305.0,1711.1 L306.5,1709.7 L308.2,1708.5 L310.0,1707.4 L311.9,1706.5" style="stroke:#000;stroke-width:7.5;shape-rendering:auto"/>
<path d="M358.1,1738.6 L357.6,1740.6 L356.9,1742.4 L356.0,1744.1 L354.9,1745.8 L353.7,1747.3 L352.2,1748.8 L350.7,1750.1 L348.9,1751.2 L347.1,1752.2 L345.1,1753.1 L343.0,1753.8 L340.9,1754.4 L338.6,1754.7 L336.3,1755.0 L333.9,1755.0 L331.5,1754.9 L329.1,1754.6 L326.6,1754.1 L324.2,1753.5 L321.9,1752.7 L319.5,1751.8 L317.3,1750.7 L315.1,1749.5 L313.0,1748.1 L311.0,1746.6 L309.1,1745.0 L307.4,1743.3 L305.8,1741.5 L304.4,1739.7 L303.1,1737.7 L302.0,1735.7 L301.1,1733.7 L300.3,1731.6 L299.8,1729.6 L299.4,1727.5 L299.3,1725.4 L299.3,1723.4 L299.6,1721.4 L300.0,1719.5 L300.7,1717.6 L301.5,1715.8 L302.5,1714.1 L303.7,1712.6 L305.0,1711.1 L306.5,1709.7 L308.2,1708.5 L310.0,1707.4 L311.9,1706.5" style="stroke:#fff;stroke-width:4.2;stroke-dasharray:0.1 6.8;stroke-linecap:round;shape-rendering:auto"/>
</g>
<g id="10_head">
<ellipse cx="606.9" cy="1185.4" rx="42.1" ry="33.3" transform="rotate(25 606.9 1185.4)" stroke-width="1.83"/>
<ellipse cx="606.9" cy="1185.9" rx="39.6" ry="31.4" transform="rotate(25 606.9 1185.9)" stroke-width="1.83"/>
<ellipse cx="603.8" cy="1193.1" rx="33.6" ry="24.5" transform="rotate(25 603.8 1193.1)" stroke-width="1.83"/>
<ellipse cx="602.3" cy="1195.5" rx="29.1" ry="20.1" transform="rotate(25 602.3 1195.5)" stroke-width="1.83"/>
<path d="M572.6,1172.1 C572.9,1171.4 573.9,1169.5 574.7,1168.3 C575.6,1167.2 576.5,1166.0 577.6,1165.0 C578.7,1164.0 579.8,1163.1 581.1,1162.2 C582.4,1161.4 583.7,1160.6 585.1,1160.0 C586.6,1159.3 588.1,1158.8 589.6,1158.3 C591.2,1157.9 592.8,1157.5 594.5,1157.3 C596.2,1157.1 597.9,1157.0 599.6,1157.0 C601.4,1157.0 603.1,1157.1 604.9,1157.3 C606.6,1157.5 608.4,1157.8 610.2,1158.3 C611.9,1158.7 613.7,1159.3 615.4,1159.9 C617.1,1160.6 618.8,1161.3 620.4,1162.2 C622.0,1163.0 623.6,1163.9 625.1,1165.0 C626.6,1166.0 628.7,1167.7 629.4,1168.2" stroke-width="1.83"/>
<path d="M560.0,1193.6 C560.4,1195.7 560.3,1201.6 562.7,1206.1 C565.1,1210.5 570.0,1216.3 574.3,1220.4 C578.6,1224.4 583.8,1227.9 588.6,1230.2 C593.3,1232.4 598.1,1233.3 602.9,1233.8 C607.6,1234.2 612.4,1234.2 617.1,1232.9 C621.9,1231.5 627.0,1229.7 631.4,1225.7 C635.9,1221.7 641.8,1211.6 643.9,1208.8" stroke-width="1.83"/>
<path d="M630.5,1140.0 L606.8,1186.8" stroke-width="1.59"/>
<path d="M574.3,1176.6 L581.4,1172.1 L584.6,1175.7 L578.8,1184.6 L573.9,1182.9Z" stroke-width="1.83"/>
<path d="M563.6,1176.6 L549.3,1178.4 L528.8,1197.1 L531.4,1204.3 L558.2,1197.1" stroke-width="1.83"/>
<path d="M540.4,1188.2 L549.3,1182.9 L553.8,1184.3 L544.8,1190.4Z" stroke-width="1.83"/>
<path d="M533.2,1200.4 L549.3,1194.5" stroke-width="1.83"/>
<path d="M537.1,1204.3 L535.0,1209.3 L551.1,1214.1" stroke-width="1.83"/>
<path d="M538.6,1232.9 L522.5,1208.2 L518.0,1206.1 L506.4,1213.2 L508.6,1218.6 L506.8,1240.0 L502.0,1243.9 L488.6,1249.3 L486.4,1254.3 L488.6,1265.0 L493.9,1273.0 L480.5,1284.6 L478.8,1290.0 L498.4,1301.6 L502.5,1295.0" stroke-width="1.83"/>
<path d="M493.9,1273.0 L506.8,1290.4 L511.4,1288.2" stroke-width="1.83"/>
<path d="M485.9,1290.4 L496.6,1295.7" stroke-width="1.83"/>
<ellipse cx="515.9" cy="1223.9" rx="3.9" ry="5.9" transform="rotate(-25 515.9 1223.9)" stroke-width="1.83"/>
<ellipse cx="496.6" cy="1262.3" rx="3.9" ry="5.9" transform="rotate(-25 496.6 1262.3)" stroke-width="1.83"/>
<path d="M563.2,1177.5 L538.2,1236.4 L510.9,1289.1" stroke-width="1.83"/>
<path d="M558.8,1198.6 L535.0,1245.4 L513.6,1285.5" stroke-width="1.83"/>
<path d="M504.6,1291.8 C503.9,1293.3 500.8,1296.5 500.2,1300.7 C499.5,1304.9 499.4,1311.4 500.7,1316.8 C502.0,1322.1 506.7,1330.2 507.9,1332.9" stroke-width="1.83"/>
<path d="M506.8,1293.2 C506.2,1294.8 503.7,1298.6 503.2,1302.5 C502.7,1306.4 502.6,1312.0 503.8,1316.8 C504.9,1321.5 509.0,1328.7 510.0,1331.1" stroke-width="1.83"/>
<path d="M510.0,1293.6 C509.5,1295.4 507.3,1300.4 506.8,1304.3 C506.2,1308.2 506.0,1312.6 506.8,1316.8 C507.6,1321.0 511.0,1327.2 511.8,1329.3" stroke-width="1.83"/>
<path d="M498.4,1306.1 C497.4,1307.9 493.0,1312.3 492.1,1316.8 C491.2,1321.2 491.5,1327.5 493.0,1332.9 C494.5,1338.2 497.6,1344.5 501.1,1348.9 C504.5,1353.4 510.0,1357.3 513.6,1359.6 C517.1,1362.0 521.0,1362.6 522.5,1363.2" stroke-width="1.83"/>
<path d="M515.4,1297.1 C514.9,1298.9 513.5,1304.3 512.7,1307.9 C511.8,1311.4 510.7,1316.8 510.4,1318.6" stroke-width="1.83"/>
<path d="M515.4,1297.1 L519.8,1300.7 L580.0,1299.5 L583.6,1301.8 L682.3,1395.7" stroke-width="1.83"/>
<path d="M513.6,1316.8 L627.0,1425.7" stroke-width="1.83"/>
<path d="M556.4,1240.0 L557.3,1229.3 L560.0,1223.6 L583.2,1227.1" stroke-width="1.83"/>
<path d="M556.4,1240.0 L612.7,1302.9" stroke-width="3.66"/>
<path d="M612.7,1302.9 C613.1,1301.0 614.0,1296.8 615.4,1291.8 C616.7,1286.8 618.3,1279.3 620.7,1273.0 C623.1,1266.8 626.9,1259.3 629.6,1254.3 C632.4,1249.2 635.9,1244.6 637.1,1242.7" stroke-width="1.83"/>
<path d="M614.5,1302.9 C615.0,1301.0 616.1,1296.8 617.5,1291.8 C618.9,1286.8 620.5,1279.1 622.9,1273.0 C625.2,1266.9 630.3,1258.2 631.8,1255.2" stroke-width="1.83"/>
<path d="M636.8,1243.2 C638.6,1241.5 643.0,1235.3 647.5,1232.9 C652.0,1230.4 657.9,1229.0 663.6,1228.4 C669.2,1227.8 676.3,1228.5 681.4,1229.3 C686.5,1230.0 692.1,1232.3 694.3,1232.9" stroke-width="1.83"/>
<path d="M638.6,1244.5 C640.4,1242.8 645.1,1236.7 649.3,1234.3 C653.5,1231.9 658.2,1230.7 663.6,1230.2 C668.9,1229.6 678.5,1230.9 681.4,1231.1" stroke-width="1.83"/>
<path d="M643.9,1208.8 L760.0,1263.2" stroke-width="1.83"/>
<path d="M634.1,1255.2 L708.2,1341.8 L760.0,1404.3" stroke-width="1.83"/>
<path d="M647.5,1268.9 L760.0,1320.7" stroke-width="1.83"/>
<path d="M656.4,1281.1 L679.6,1283.8" stroke-width="1.83"/>
<path d="M613.2,1303.4 L642.1,1338.2 L683.2,1390.0 L690.4,1402.5" stroke-width="1.83"/>
<path d="M627.0,1342.7 L638.6,1343.6 L645.7,1351.6 L640.4,1355.2 L631.4,1345.4" stroke-width="1.83"/>
<ellipse cx="706.4" cy="1355.2" rx="5.0" ry="7.5" transform="rotate(-25 706.4 1355.2)" stroke-width="1.83"/>
<path d="M699.3,1345.4 C699.0,1346.8 696.6,1350.9 697.5,1354.3 C698.4,1357.7 702.0,1363.8 704.6,1365.9 C707.3,1368.0 711.6,1367.8 713.6,1366.8 C715.5,1365.7 716.8,1363.2 716.2,1359.6 C715.7,1356.1 711.0,1347.7 710.0,1345.4" stroke-width="1.83"/>
<path d="M706.4,1340.0 L760.0,1343.9" stroke-width="1.83"/>
<path d="M680,1325 L703,1350 M690,1322 L712,1345 M702,1320 L708,1336" style="stroke-dasharray:3 3;stroke-width:1.6"/>
<path d="M508.2,1318.6 C509.1,1321.5 511.2,1329.0 513.6,1336.4 C516.0,1343.9 519.3,1355.5 522.5,1363.2 C525.7,1371.0 531.1,1379.6 532.9,1382.9" stroke-width="1.83"/>
<path d="M533.2,1363.2 L533.2,1404.3 L537.7,1440.0" stroke-width="1.83"/>
<path d="M533.2,1363.2 L567.1,1396.2 L583.2,1390.9 L576.1,1382.0 L556.4,1382.9" stroke-width="1.83"/>
<path d="M576.1,1390.0 L604.6,1419.5" stroke-width="1.83"/>
<path d="M583.2,1390.9 L626.1,1425.7" stroke-width="1.83"/>
<path d="M583.2,1393.6 L627.0,1430.2" stroke-width="1.83"/>
<path d="M533.3,1407.1 L515.5,1416.7 L507.1,1427.4 L515.5,1448.8 L533.3,1452.4" stroke-width="1.83"/>
<path d="M515.5,1416.7 C517.7,1417.1 525.0,1416.3 528.6,1419.0 C532.1,1421.8 535.2,1429.0 536.9,1433.3 C538.6,1437.7 538.3,1443.3 538.6,1445.2" stroke-width="1.83"/>
<path d="M538.1,1416.7 L540.5,1426.2 L536.2,1433.3" stroke-width="1.83"/>
<ellipse class="f" cx="523.8" cy="1435.7" rx="2.9" ry="4.3" transform="rotate(-15 523.8 1435.7)" stroke-width="1.83"/>
</g>
<g id="11_b">
<path d="M760.0,1263.2 L827.9,1296.8 L870.7,1315.9 L893.9,1325.7" stroke-width="1.83"/>
<path d="M893.9,1325.7 C896.9,1326.3 904.3,1327.5 911.8,1329.3 C919.2,1331.1 931.1,1333.8 938.6,1336.4 C946.0,1339.1 950.5,1342.2 956.4,1345.4 C962.4,1348.5 968.5,1351.3 974.3,1355.2 C980.1,1359.0 988.4,1366.3 991.2,1368.6" stroke-width="1.83"/>
<path d="M991.2,1368.6 L1060.0,1428.6" stroke-width="1.83"/>
<path d="M827.9,1296.8 L841.2,1287.9 L847.5,1289.6" stroke-width="1.83"/>
<path d="M846.6,1289.1 C847.1,1288.1 847.1,1284.3 849.3,1282.9 C851.5,1281.4 856.4,1280.0 860.0,1280.2 C863.6,1280.3 867.1,1281.5 870.7,1283.8 C874.3,1286.0 878.6,1289.9 881.4,1293.6 C884.3,1297.3 886.6,1304.0 887.7,1306.1" stroke-width="1.83"/>
<path d="M847.5,1289.6 L891.2,1306.1 L893.0,1324.8" stroke-width="1.83"/>
<path d="M891.2,1306.1 L885.0,1308.8 L873.4,1316.8" stroke-width="1.83"/>
<path d="M874.3,1317.7 L893.0,1325.7" stroke-width="2.68"/>
<path d="M894.8,1328.4 C895.9,1329.7 899.6,1333.3 901.1,1336.4 C902.6,1339.6 903.8,1343.6 903.8,1347.1 C903.8,1350.7 903.6,1354.3 901.1,1357.9 C898.5,1361.4 890.7,1366.8 888.6,1368.6" stroke-width="1.83"/>
<path d="M760.0,1321.2 L885.9,1381.1 L922.9,1401.1" stroke-width="1.83"/>
<path d="M760.0,1346.2 L777.9,1347.1" stroke-width="1.83"/>
<path d="M790.4,1363.2 C794.2,1363.7 805.2,1364.1 813.6,1365.9 C821.9,1367.7 829.9,1370.2 840.4,1373.9 C850.8,1377.6 862.7,1383.5 876.1,1388.2 C889.5,1393.0 913.3,1400.1 920.7,1402.5" stroke-width="1.83"/>
<path d="M760.0,1404.3 C763.0,1407.9 771.3,1419.8 777.9,1425.7 C784.4,1431.7 795.7,1437.6 799.3,1440.0" stroke-width="1.83"/>
<path d="M922.5,1400.7 C922.4,1398.9 921.0,1393.6 921.6,1390.0 C922.2,1386.4 923.2,1382.4 926.1,1379.3 C928.9,1376.2 933.5,1373.3 938.6,1371.2 C943.6,1369.2 950.5,1367.9 956.4,1367.1 C962.4,1366.4 968.5,1366.5 974.3,1366.8 C980.1,1367.0 988.4,1368.3 991.2,1368.6" stroke-width="1.83"/>
<path d="M856.4,1440.0 L922.9,1401.6 L942.1,1390.9" stroke-width="1.83"/>
<path d="M942.1,1390.9 C943.9,1390.9 949.6,1389.3 952.9,1390.9 C956.1,1392.5 959.1,1396.7 961.8,1400.7 C964.5,1404.7 967.3,1410.5 968.9,1415.0 C970.6,1419.5 971.5,1423.3 971.6,1427.5 C971.8,1431.7 970.1,1437.9 969.8,1440.0" stroke-width="1.83"/>
<path d="M917.1,1402.5 L922.9,1401.1" stroke-width="1.83"/>
<path d="M821.6,1440.0 L819.8,1427.5 L832.3,1422.1 L833.6,1440.0" stroke-width="1.83"/>
<path d="M823.9,1430.2 L830.5,1427.5 L830.5,1432.9 L825.2,1437.3Z" stroke-width="1.83"/>
</g>
<g id="12_c">
<path d="M497.5,1481.1 L552.0,1449.8 L570.7,1482.9 L557.3,1515.0 L538.6,1524.8 L528.8,1523.9 L521.6,1527.5 L517.1,1527.5 L508.2,1518.6 L497.5,1505.2Z" stroke-width="1.83"/>
<path d="M499.6,1482.0 L527.0,1498.0" stroke-width="1.83"/>
<path d="M543.0,1498.9 L566.2,1486.4" stroke-width="1.83"/>
<path d="M536.8,1511.4 L536.8,1524.8" stroke-width="1.83"/>
<ellipse cx="539.5" cy="1478.0" rx="13.4" ry="8.0" stroke-width="1.83"/>
<path d="M537.7,1470.4 L537.7,1485.5" stroke-width="1.83"/>
<ellipse cx="515.9" cy="1513.2" rx="3.6" ry="5.9" transform="rotate(-20 515.9 1513.2)" stroke-width="3.05"/>
<ellipse cx="551.6" cy="1507.9" rx="3.6" ry="5.0" transform="rotate(20 551.6 1507.9)" stroke-width="3.05"/>
<path d="M536.8,1440.0 L535.0,1457.9" stroke-width="1.83"/>
<path d="M529.6,1527.5 C529.2,1529.6 527.6,1535.5 527.0,1540.0 C526.4,1544.5 525.8,1549.5 526.1,1554.3 C526.4,1559.0 527.6,1564.4 528.8,1568.6 C529.9,1572.7 531.7,1576.3 533.2,1579.3 C534.7,1582.3 536.9,1585.2 537.7,1586.4" stroke-width="1.83"/>
<path d="M537.7,1586.4 L565.4,1609.6" stroke-width="1.83"/>
<path d="M565.4,1609.6 C567.1,1612.3 573.4,1621.2 576.1,1625.7 C578.8,1630.2 579.9,1632.6 581.4,1636.4 C582.9,1640.3 584.4,1646.8 585.0,1648.9" stroke-width="1.83"/>
<path d="M571.6,1498.9 C570.3,1501.6 566.0,1509.0 563.6,1515.0 C561.2,1521.0 558.4,1528.1 557.3,1534.6 C556.3,1541.2 556.6,1548.0 557.3,1554.3 C558.1,1560.5 560.6,1567.1 561.8,1572.1 C563.0,1577.2 564.0,1582.6 564.5,1584.6" stroke-width="1.83"/>
<path d="M570.7,1596.2 L595.7,1620.4" stroke-width="1.83"/>
<path d="M595.7,1620.4 C596.6,1621.8 599.9,1626.2 601.1,1629.3 C602.3,1632.4 602.6,1637.5 602.9,1639.1" stroke-width="1.83"/>
<path d="M631.4,1447.1 C629.0,1451.0 621.3,1462.6 617.1,1470.4 C613.0,1478.1 609.1,1485.8 606.4,1493.6 C603.8,1501.3 602.3,1510.2 601.1,1516.8 C599.9,1523.3 599.3,1526.6 599.3,1532.9 C599.3,1539.1 599.9,1547.1 601.1,1554.3 C602.3,1561.4 604.6,1569.2 606.4,1575.7 C608.2,1582.3 609.4,1587.6 611.8,1593.6 C614.2,1599.5 618.5,1606.1 620.7,1611.4 C622.9,1616.8 624.1,1622.1 625.2,1625.7 C626.2,1629.3 626.7,1631.7 627.0,1632.9" stroke-width="1.83"/>
<path d="M563.6,1543.6 L597.5,1523.9" stroke-width="1.83"/>
<path d="M529.6,1553.4 L548.4,1548.9" stroke-width="1.83"/>
<path d="M536.8,1582.0 L557.3,1590.0" stroke-width="1.83"/>
<path d="M565.4,1609.6 L582.3,1615.9" stroke-width="1.83"/>
<path d="M585.0,1473.0 L604.6,1440.0" stroke-width="1.83"/>
<path d="M627.0,1632.9 C628.3,1633.8 632.8,1635.5 635.0,1638.2 C637.2,1640.9 639.6,1645.5 640.4,1648.9 C641.1,1652.4 639.6,1657.1 639.5,1658.8" stroke-width="1.83"/>
<path d="M639.5,1658.8 L599.3,1682.0 L583.2,1686.4 L577.9,1654.3 L585.0,1649.8" stroke-width="1.83"/>
<path d="M627.9,1633.8 L628.8,1642.7 L614.5,1648.9" stroke-width="1.83"/>
<ellipse cx="593.0" cy="1665.0" rx="8.0" ry="12.5" transform="rotate(-20 593.0 1665.0)" stroke-width="3.66"/>
<ellipse cx="593.0" cy="1665.0" rx="4.5" ry="8.0" transform="rotate(-20 593.0 1665.0)" stroke-width="3.66"/>
<ellipse cx="601.1" cy="1648.9" rx="7.5" ry="5.7" transform="rotate(20 601.1 1648.9)" stroke-width="1.83"/>
<path d="M610.9,1647.1 L615.4,1656.1 L622.5,1666.8" stroke-width="3.05"/>
<path d="M601.1,1659.6 L608.2,1663.2" stroke-width="1.83"/>
<path d="M690.4,1473.0 L760.0,1497.1" stroke-width="1.83"/>
</g>
<g id="13_d">
<path d="M760.0,1497.1 C762.4,1498.2 766.8,1499.4 774.3,1503.4 C781.7,1507.4 792.1,1513.4 804.6,1521.2 C817.1,1529.1 833.5,1540.1 849.3,1550.7 C865.1,1561.3 887.4,1576.3 899.3,1584.6 C911.2,1593.0 914.2,1594.8 920.7,1600.7 C927.3,1606.7 932.6,1613.2 938.6,1620.4 C944.5,1627.5 951.1,1635.8 956.4,1643.6 C961.8,1651.3 966.0,1657.6 970.7,1666.8 C975.5,1676.0 981.1,1689.7 985.0,1698.9 C988.9,1708.2 991.2,1715.3 993.9,1722.1 C996.6,1729.0 999.9,1737.0 1001.1,1740.0" stroke-width="1.83"/>
<path d="M797.5,1440.0 L826.1,1457.0 L874.3,1490.0" stroke-width="1.83"/>
<path d="M874.3,1490.0 C880.5,1494.5 901.1,1509.6 911.8,1516.8 C922.5,1523.9 928.8,1525.4 938.6,1532.9 C948.4,1540.3 961.8,1552.2 970.7,1561.4 C979.6,1570.7 985.0,1579.0 992.1,1588.2 C999.3,1597.4 1007.0,1607.9 1013.6,1616.8 C1020.1,1625.7 1026.1,1632.9 1031.4,1641.8 C1036.8,1650.7 1042.1,1662.6 1045.7,1670.4 C1049.3,1678.1 1051.1,1683.2 1052.9,1688.2 C1054.6,1693.3 1055.2,1698.0 1056.4,1700.7 C1057.6,1703.4 1059.4,1703.7 1060.0,1704.3" stroke-width="1.83"/>
<path d="M874.3,1489.1 L968.0,1436.1" stroke-width="1.83"/>
<path d="M971.6,1440.0 L1060.0,1516.8" stroke-width="1.83"/>
<ellipse class="f" cx="889.5" cy="1478.4" rx="2.1" ry="2.1" stroke-width="1.83"/>
<ellipse class="f" cx="995.4" cy="1462.3" rx="2.1" ry="2.1" stroke-width="1.83"/>
<path d="M760.0,1447.1 L792.1,1465.0 L801.1,1477.5 L803.2,1477.5 L803.2,1443.6 L797.5,1440.0" stroke-width="1.83"/>
<path d="M760.0,1450.4 L789.5,1467.1" stroke-width="1.83"/>
<path d="M821.6,1440.0 L821.6,1456.1" stroke-width="3.05"/>
<path d="M832.3,1440.0 L832.3,1450.7" stroke-width="1.83"/>
<path d="M829.6,1455.2 L860.0,1440.0" stroke-width="1.83"/>
<path d="M825.2,1456.1 C825.3,1455.2 825.3,1452.1 826.1,1450.7 C826.8,1449.4 829.0,1448.5 829.6,1448.0" stroke-width="1.83"/>
<path d="M840,1451 C850,1453 875,1452 884,1460" style="stroke-dasharray:8 4;stroke-width:1.4"/>
<path d="M833.2,1461.4 L838.6,1459.6 L841.2,1463.2 L835.9,1465.9Z" stroke-width="1.83"/>
<path d="M818.9,1462.3 L826.1,1469.5" stroke-width="3.05"/>
<path d="M842.1,1477.5 L848.4,1482.9" stroke-width="3.05"/>
<path d="M1031.4,1641.8 L1060.0,1625.7" stroke-width="1.83"/>
<path d="M1051.1,1680.2 L1060.0,1675.7" stroke-width="1.83"/>
<path d="M1051.1,1700.7 C1049.9,1703.4 1044.8,1711.4 1043.9,1716.8 C1043.0,1722.1 1044.2,1729.0 1045.7,1732.9 C1047.2,1736.7 1051.7,1738.8 1052.9,1740.0" stroke-width="1.83"/>
<path d="M970.7,1737.3 L997.5,1723.9 L1001.1,1740.0" stroke-width="1.83"/>
<path d="M974.3,1740.0 L997.5,1726.6" stroke-width="1.83"/>
</g>
<g id="14_e">
<path d="M803.6,1442.9 L803.6,1477.7 L800.0,1477.7 L792.0,1466.1" stroke-width="1.83"/>
<path d="M683.9,1394.6 L696.4,1405.4 L792.0,1466.1" stroke-width="1.83"/>
<path d="M696.4,1402.7 L789.3,1463.4" stroke-width="1.83"/>
<path d="M714.3,1414.3 C716.7,1415.5 723.8,1419.8 728.6,1421.4 C733.3,1423.1 737.6,1423.5 742.9,1424.1 C748.1,1424.7 757.0,1424.9 759.8,1425.0" stroke-width="1.83"/>
<path d="M626.8,1412.5 L647.3,1399.1 L690.2,1420.5 L675.0,1429.5" stroke-width="1.83"/>
<path d="M629.5,1414.3 C632.0,1413.1 640.0,1407.1 644.6,1407.1 C649.3,1407.1 653.3,1410.7 657.1,1414.3 C661.0,1417.9 665.0,1423.2 667.9,1428.6 C670.7,1433.9 672.9,1441.1 674.1,1446.4 C675.3,1451.8 674.9,1458.3 675.0,1460.7" stroke-width="1.83"/>
<path d="M631.2,1435.7 C631.7,1434.5 632.0,1430.5 633.9,1428.6 C635.9,1426.6 639.9,1424.7 642.9,1424.1 C645.8,1423.5 649.1,1423.7 651.8,1425.0 C654.5,1426.3 657.1,1429.2 658.9,1432.1 C660.7,1435.1 662.2,1440.2 662.5,1442.9 C662.8,1445.5 661.0,1447.3 660.7,1448.2" stroke-width="1.83"/>
<path d="M660.7,1448.2 L648.2,1455.4 L641.1,1457.1" stroke-width="1.83"/>
<ellipse cx="640.2" cy="1444.3" rx="3.9" ry="6.8" transform="rotate(-20 640.2 1444.3)" stroke-width="1.83"/>
<path d="M626.8,1412.5 L628.6,1441.1" stroke-width="1.83"/>
<path d="M675.0,1429.5 L676.8,1448.2 L681.2,1476.8" stroke-width="1.83"/>
<path d="M641.1,1457.1 L642.9,1463.4 L680.4,1477.7 L690.2,1473.2 L681.2,1466.1" stroke-width="1.83"/>
<path d="M642.9,1462.5 C644.6,1463.5 650.0,1467.9 653.6,1468.8 C657.1,1469.6 661.0,1469.2 664.3,1467.9 C667.6,1466.5 671.7,1461.9 673.2,1460.7" stroke-width="1.83"/>
<path d="M746.4,1347.3 L742.0,1369.6 L741.1,1380.4" stroke-width="1.83"/>
<path d="M730.4,1371.4 L742.0,1369.6" stroke-width="1.83"/>
<path d="M748.2,1346.8 C749.7,1347.0 754.3,1346.5 757.1,1348.2 C760.0,1349.9 763.1,1353.9 765.2,1357.1 C767.3,1360.4 768.9,1366.1 769.6,1367.9" stroke-width="1.83"/>
<path d="M769.6,1367.9 L767.0,1385.7 L760.7,1396.4 L760.7,1405.4" stroke-width="1.83"/>
<path d="M766.1,1371.4 L761.6,1392.9" stroke-width="1.83"/>
<ellipse cx="757.1" cy="1359.8" rx="4.6" ry="8.2" transform="rotate(-25 757.1 1359.8)" stroke-width="3.17"/>
<ellipse cx="757.1" cy="1359.8" rx="7.5" ry="11.1" transform="rotate(-25 757.1 1359.8)" stroke-width="1.83"/>
<path d="M769.6,1371.4 C771.7,1370.8 778.7,1369.5 782.1,1367.9 C785.6,1366.2 788.8,1362.6 790.2,1361.6" stroke-width="1.83"/>
<path d="M782.1,1347.3 C783.3,1348.4 788.0,1351.2 789.3,1353.6 C790.5,1356.0 789.6,1360.3 789.6,1361.6" stroke-width="1.83"/>
<path d="M791.1,1361.6 L805.4,1363.9" stroke-width="1.83"/>
</g>
<g id="15_f">
<path d="M1060.0,1428.6 C1066.0,1433.6 1083.8,1447.6 1095.7,1458.9 C1107.6,1470.2 1119.5,1483.0 1131.4,1496.4 C1143.3,1509.8 1156.4,1526.8 1167.1,1539.3 C1177.9,1551.8 1187.7,1561.9 1195.7,1571.4 C1203.8,1581.0 1209.4,1588.7 1215.4,1596.4 C1221.3,1604.2 1227.3,1611.9 1231.4,1617.9 C1235.6,1623.8 1238.9,1629.8 1240.4,1632.1" stroke-width="1.83"/>
<path d="M1060.0,1516.1 C1063.6,1519.3 1074.0,1528.3 1081.4,1535.7 C1088.9,1543.2 1097.2,1552.1 1104.6,1560.7 C1112.1,1569.3 1122.5,1583.0 1126.1,1587.5" stroke-width="1.83"/>
<path d="M1060.0,1625.0 L1126.1,1587.5 L1136.8,1581.2" stroke-width="1.83"/>
<path d="M1136.8,1581.2 C1138.6,1581.1 1144.2,1579.3 1147.5,1580.4 C1150.8,1581.4 1153.8,1584.8 1156.4,1587.5 C1159.1,1590.2 1161.9,1593.2 1163.6,1596.4 C1165.2,1599.7 1166.1,1604.2 1166.2,1607.1 C1166.4,1610.1 1164.8,1613.1 1164.5,1614.3" stroke-width="1.83"/>
<path d="M1164.5,1614.3 L1152.0,1622.3 L1060.0,1675.0" stroke-width="1.83"/>
<path d="M1152.0,1622.3 L1174.3,1655.4 L1193.9,1689.3 L1199.3,1700.0" stroke-width="1.83"/>
<path d="M1191.2,1682.1 L1195.7,1700.0" stroke-width="1.83"/>
<path d="M1191.2,1682.1 C1192.9,1683.3 1198.2,1686.3 1201.1,1689.3 C1203.9,1692.3 1207.0,1698.2 1208.2,1700.0" stroke-width="1.83"/>
<path d="M1175.2,1633.0 C1175.6,1631.1 1176.2,1625.0 1177.9,1621.4 C1179.5,1617.9 1182.5,1613.6 1185.0,1611.6 C1187.5,1609.6 1191.7,1609.7 1193.0,1609.3" stroke-width="1.83"/>
<path d="M1193.0,1609.3 L1240.4,1632.1 L1281.4,1656.2" stroke-width="1.83"/>
<path d="M1179.6,1641.1 L1243.9,1675.0 L1292.1,1700.0" stroke-width="1.83"/>
<path d="M1215.4,1598.2 L1229.6,1602.7 L1240.4,1614.3 L1249.3,1628.6 L1241.2,1633.0" stroke-width="1.83"/>
<path d="M1231.4,1619.6 L1240.4,1614.3" stroke-width="1.83"/>
<path d="M1225.2,1609.8 L1231.4,1619.6" stroke-width="3.05"/>
<ellipse cx="1228.8" cy="1613.4" rx="3.6" ry="5.4" transform="rotate(-30 1228.8 1613.4)" stroke-width="1.83"/>
<path d="M1278.8,1660.7 L1292.1,1652.7 L1314.5,1662.5 L1299.3,1671.4Z" stroke-width="1.83"/>
<path d="M1278.8,1660.7 L1276.1,1666.1 L1277.0,1680.4 L1293.9,1689.3 L1297.5,1687.5 L1297.5,1673.2 L1299.3,1671.4" stroke-width="1.83"/>
<path d="M1299.3,1671.4 L1306.4,1667.0 L1313.6,1666.1 L1315.4,1671.4" stroke-width="1.83"/>
<path d="M1279.6,1664.3 L1292.1,1670.5" stroke-width="1.83"/>
<ellipse class="f" cx="1293.9" cy="1661.6" rx="4.5" ry="2.1" transform="rotate(10 1293.9 1661.6)" stroke-width="1.83"/>
<path d="M1306.4,1671.4 C1308.5,1672.6 1313.9,1676.2 1318.9,1678.6 C1324.0,1681.0 1329.9,1683.8 1336.8,1685.7 C1343.6,1687.6 1356.1,1689.4 1360.0,1690.2" stroke-width="1.83"/>
<path d="M1243.9,1675.0 L1256.4,1700.0" stroke-width="1.83"/>
<path d="M1249.3,1678.6 L1261.8,1700.0" stroke-width="1.83"/>
<path d="M1270.7,1696.4 L1274.3,1700.0" stroke-width="1.83"/>
</g>
<g id="16_g">
<path d="M1360.0,1691.1 C1366.0,1692.9 1383.2,1698.2 1395.7,1701.8 C1408.2,1705.4 1423.1,1709.5 1435.0,1712.5 C1446.9,1715.5 1457.3,1717.6 1467.1,1719.6 C1477.0,1721.7 1485.0,1723.8 1493.9,1725.0 C1502.9,1726.2 1512.7,1726.2 1520.7,1727.1 C1528.8,1728.0 1538.6,1729.8 1542.1,1730.4" stroke-width="1.83"/>
<path d="M1360.0,1707.1 C1361.5,1708.0 1366.7,1709.8 1368.9,1712.5 C1371.2,1715.2 1373.4,1719.9 1373.4,1723.2 C1373.4,1726.5 1371.2,1729.8 1368.9,1732.1 C1366.7,1734.5 1361.5,1736.6 1360.0,1737.5" stroke-width="1.83"/>
<path d="M1370.7,1730.4 L1431.4,1748.2" stroke-width="1.83"/>
<path d="M1431.4,1748.2 C1435.9,1749.4 1449.3,1753.6 1458.2,1755.4 C1467.1,1757.1 1478.8,1758.2 1485.0,1758.9 C1491.2,1759.7 1493.9,1759.7 1495.7,1759.8" stroke-width="1.83"/>
<path d="M1491.2,1724.1 C1492.9,1722.8 1497.6,1718.0 1501.1,1716.1 C1504.5,1714.1 1508.5,1713.2 1511.8,1712.5 C1515.1,1711.8 1518.0,1711.8 1520.7,1712.1 C1523.4,1712.4 1526.7,1713.9 1527.9,1714.3" stroke-width="1.83"/>
<path d="M1527.9,1714.3 L1532.3,1727.7" stroke-width="1.83"/>
<path d="M1507.3,1715.2 L1510.9,1725.0" stroke-width="1.83"/>
<path d="M1511.8,1725.0 L1524.3,1717.0" stroke-width="2.68"/>
<path d="M1524.3,1738.4 L1540.4,1731.2 L1545.7,1732.1 L1567.1,1719.3 L1590.4,1728.6" stroke-width="1.83"/>
<path d="M1576.1,1733.9 L1592.1,1727.7" stroke-width="1.83"/>
<path d="M1545.7,1732.1 L1574.3,1742.9" stroke-width="1.83"/>
<path d="M1526.1,1738.4 C1527.0,1738.8 1528.5,1740.0 1531.4,1741.1 C1534.4,1742.1 1541.5,1743.5 1543.9,1744.6 C1546.3,1745.8 1545.4,1747.6 1545.7,1748.2" stroke-width="3.05"/>
<path d="M1545.7,1748.2 L1527.9,1762.5 L1520.7,1761.6" stroke-width="3.05"/>
<path d="M1510.0,1758.9 C1510.3,1758.3 1510.0,1756.1 1511.8,1755.4 C1513.6,1754.6 1518.2,1754.0 1520.7,1754.5 C1523.2,1754.9 1525.9,1757.4 1527.0,1758.0" stroke-width="3.05"/>
<path d="M1510.9,1759.8 C1511.6,1760.6 1513.4,1763.6 1515.4,1764.3 C1517.3,1765.0 1520.6,1764.7 1522.5,1763.9 C1524.4,1763.2 1526.2,1760.5 1527.0,1759.8" stroke-width="3.05"/>
<path d="M1574.3,1742.9 C1576.7,1743.5 1585.3,1744.9 1588.6,1746.4 C1591.8,1747.9 1593.9,1749.7 1593.9,1751.8 C1593.9,1753.9 1591.2,1757.3 1588.6,1758.9 C1585.9,1760.6 1581.1,1761.6 1577.9,1761.6 C1574.6,1761.6 1571.3,1760.0 1568.9,1758.9 C1566.5,1757.9 1564.5,1756.0 1563.6,1755.4" stroke-width="3.05"/>
<path d="M1563.6,1755.4 C1561.2,1755.7 1552.6,1756.2 1549.3,1757.1 C1546.0,1758.0 1545.7,1759.2 1543.9,1760.7 C1542.1,1762.2 1539.5,1765.2 1538.6,1766.1" stroke-width="3.05"/>
<path d="M1585.9,1733.0 L1610.0,1737.5 L1617.1,1732.1" stroke-width="3.05"/>
<path d="M1590.4,1760.7 C1591.8,1759.8 1596.6,1757.4 1599.3,1755.4 C1602.0,1753.3 1605.2,1750.9 1606.4,1748.2 C1607.6,1745.5 1606.4,1740.8 1606.4,1739.3" stroke-width="3.05"/>
<ellipse cx="1582.0" cy="1752.1" rx="3.9" ry="2.1" transform="rotate(-10 1582.0 1752.1)" stroke-width="1.83"/>
<path d="M1517.1,1746.4 L1526.1,1741.1" stroke-width="1.83"/>
<path d="M1600.2,1714.3 L1622.5,1699.1 L1622.5,1695.5 L1638.6,1687.5 L1652.9,1682.1 L1654.6,1685.7 L1649.3,1691.1 L1640.4,1692.9" stroke-width="1.83"/>
<path d="M1638.6,1687.5 L1640.4,1696.4 L1638.6,1703.6 L1631.4,1716.1 L1627.9,1725.0 L1617.1,1732.1" stroke-width="1.83"/>
<path d="M1612.7,1728.6 L1618.9,1719.6 L1624.3,1728.6Z" stroke-width="1.83"/>
<path d="M1600.2,1714.3 L1602.9,1721.4 L1590.4,1728.6" stroke-width="1.83"/>
<path d="M1641.2,1686.6 L1643.0,1694.6" stroke-width="2.68"/>
<path d="M1404.6,1805.4 L1517.1,1746.4" stroke-width="1.83"/>
<path d="M1456.4,1794.6 L1495.7,1774.1" stroke-width="1.83"/>
<path d="M1457.3,1794.6 L1494.8,1774.1 L1518.0,1810.7 L1477.9,1833.9Z" stroke-width="1.83"/>
<path d="M1457.3,1800.0 L1457.3,1814.3 L1472.5,1848.2 L1483.2,1844.6 L1518.9,1816.1 L1518.0,1810.7" stroke-width="1.83"/>
<path d="M1466.2,1793.8 L1487.7,1783.0 L1493.9,1791.1 L1471.6,1803.6Z" stroke-width="1.83"/>
<ellipse class="f" cx="1491.2" cy="1812.5" rx="3.9" ry="3.9" stroke-width="1.83"/>
<path d="M1497.5,1775.9 L1520.7,1808.9 L1532.3,1775.9" stroke-width="1.83"/>
<path d="M1499.3,1772.3 L1531.4,1769.6 L1543.0,1766.1" stroke-width="1.83"/>
<path d="M1543.9,1766.1 L1545.7,1773.2 L1531.4,1810.7 L1518.9,1817.0" stroke-width="1.83"/>
<path d="M1543.9,1784.8 L1593.9,1768.8" stroke-width="1.83"/>
<path d="M1592.1,1767.9 C1595.1,1767.3 1604.0,1765.2 1610.0,1764.3 C1616.0,1763.4 1619.5,1762.5 1627.9,1762.5 C1636.2,1762.5 1654.6,1764.0 1660.0,1764.3" stroke-width="1.83"/>
<path d="M1599.3,1769.6 L1624.3,1773.2 L1660.0,1774.1" stroke-width="1.83"/>
<path d="M1520.7,1828.6 L1606.4,1805.4" stroke-width="3.05"/>
<path d="M1606.4,1805.4 L1660.0,1785.7" stroke-width="1.83"/>
<path d="M1606.4,1805.4 L1613.6,1808.9 L1610.0,1814.3 L1583.2,1844.6" stroke-width="1.83"/>
<path d="M1583.2,1841.1 L1593.9,1825.0" stroke-width="1.83"/>
<path d="M1549.3,1766.1 L1556.4,1778.6" stroke-width="1.83"/>
<path d="M1380.5,1796.4 C1381.0,1795.2 1381.6,1790.6 1383.2,1789.3 C1384.9,1787.9 1388.3,1787.5 1390.4,1788.4 C1392.4,1789.3 1393.9,1792.1 1395.7,1794.6 C1397.5,1797.2 1399.6,1800.9 1401.1,1803.6 C1402.6,1806.2 1404.0,1809.5 1404.6,1810.7" stroke-width="3.05"/>
<path d="M1379.6,1800.0 L1391.2,1796.4 L1393.9,1807.1 L1384.1,1809.8Z" stroke-width="1.83"/>
<ellipse cx="1386.8" cy="1804.5" rx="2.1" ry="2.9" stroke-width="1.83"/>
<path d="M1379.6,1823.2 L1390.4,1816.1 L1404.6,1821.4 L1418.9,1810.7 L1435.0,1805.4 L1452.9,1808.9 L1443.9,1814.3 L1431.4,1821.4 L1418.9,1825.0 L1408.2,1830.4" stroke-width="3.05"/>
<path d="M1425.2,1808.9 C1425.6,1808.3 1425.9,1806.0 1427.9,1805.4 C1429.8,1804.8 1434.6,1804.6 1436.8,1805.4 C1439.0,1806.1 1440.5,1809.1 1441.2,1809.8" stroke-width="3.05"/>
<path d="M1425.2,1810.4 C1425.9,1811.0 1427.7,1813.7 1429.6,1814.3 C1431.6,1814.9 1434.9,1814.5 1436.8,1813.9 C1438.7,1813.3 1440.5,1811.2 1441.2,1810.7" stroke-width="3.05"/>
<path d="M1379.6,1823.2 L1381.4,1826.8 L1404.6,1825.0" stroke-width="1.83"/>
<path d="M1381.4,1841.1 C1381.1,1842.6 1378.5,1848.2 1379.6,1850.0 C1380.8,1851.8 1385.6,1852.4 1388.6,1851.8 C1391.5,1851.2 1395.1,1846.4 1397.5,1846.4 C1399.9,1846.4 1402.0,1850.9 1402.9,1851.8" stroke-width="1.83"/>
<ellipse cx="1392.1" cy="1832.1" rx="9.8" ry="3.6" transform="rotate(-25 1392.1 1832.1)" stroke-width="3.66"/>
<path d="M1411.8,1850.0 L1408.2,1869.6 L1411.8,1873.2 L1431.4,1873.2 L1435.0,1867.9 L1435.0,1841.1 L1440.4,1832.1 L1449.3,1830.4 L1454.6,1835.7 L1454.6,1857.1 L1449.3,1858.9" stroke-width="3.05"/>
<path d="M1413.6,1864.3 L1427.9,1864.3 L1429.6,1841.1 L1418.9,1842.9 L1408.2,1850.0" stroke-width="3.05"/>
<path d="M1438.6,1837.5 L1438.6,1853.6 L1449.3,1850.0 L1449.3,1833.9" stroke-width="3.05"/>
<ellipse cx="1443.0" cy="1842.9" rx="3.2" ry="6.2" transform="rotate(15 1443.0 1842.9)" stroke-width="3.66"/>
<path d="M1360.0,1807.1 L1379.6,1808.0" stroke-width="1.83"/>
<path d="M1360.0,1816.1 L1367.1,1817.0" stroke-width="1.83"/>
<path d="M1367.1,1817.0 C1368.3,1817.7 1373.4,1819.2 1374.3,1821.4 C1375.2,1823.7 1374.9,1828.3 1372.5,1830.4 C1370.1,1832.4 1362.1,1833.3 1360.0,1833.9" stroke-width="1.83"/>
<path d="M1360.0,1841.1 L1379.6,1850.0" stroke-width="1.83"/>
<path d="M1360.0,1857.1 L1410.0,1864.3" stroke-width="1.83"/>
<path d="M1418.9,1825.0 L1413.6,1837.5 L1408.2,1850.0" stroke-width="1.83"/>
<path d="M1454.6,1858.9 L1511.8,1866.4" stroke-width="1.83"/>
<path d="M1408.2,1873.2 L1360.0,1900.0" stroke-width="1.83"/>
<path d="M1431.4,1873.2 L1515.4,1880.4" stroke-width="1.83"/>
<path d="M1435.0,1883.9 L1381.4,1900.0" stroke-width="1.83"/>
<ellipse cx="1515.4" cy="1856.2" rx="7.5" ry="10.4" transform="rotate(-15 1515.4 1856.2)" stroke-width="3.66"/>
<ellipse cx="1516.2" cy="1857.1" rx="3.2" ry="5.0" transform="rotate(-15 1516.2 1857.1)" stroke-width="1.83"/>
<ellipse cx="1557.3" cy="1848.2" rx="7.1" ry="9.3" transform="rotate(-20 1557.3 1848.2)" stroke-width="3.66"/>
<path d="M1535.0,1862.5 L1635.0,1869.6 L1640.4,1878.6 L1538.6,1873.2Z" stroke-width="1.83"/>
<path d="M1561.8,1844.6 L1610.0,1846.4 L1660.0,1837.5" stroke-width="1.83"/>
<ellipse cx="1617.1" cy="1846.4" rx="8.0" ry="2.5" transform="rotate(-15 1617.1 1846.4)" stroke-width="1.83"/>
<path d="M1637.7,1873.2 C1637.8,1872.0 1636.6,1867.3 1638.6,1866.1 C1640.5,1864.9 1646.9,1864.9 1649.3,1866.1 C1651.7,1867.3 1652.3,1872.0 1652.9,1873.2" stroke-width="1.83"/>
<path d="M1513.6,1900.0 L1517.1,1878.6 L1524.3,1875.0 L1527.9,1900.0" stroke-width="3.05"/>
<path d="M1540.4,1900.0 L1543.9,1878.6 L1551.1,1878.6 L1552.9,1900.0" stroke-width="3.05"/>
<path d="M1645.7,1900.0 C1646.3,1897.6 1646.9,1889.0 1649.3,1885.7 C1651.7,1882.4 1658.2,1881.2 1660.0,1880.4" stroke-width="3.05"/>
<path d="M1651.1,1864.3 L1660.0,1858.9" stroke-width="1.83"/>
<path d="M1483.2,1844.6 L1508.2,1864.3" stroke-width="1.83"/>
<path d="M1520.7,1837.5 L1531.4,1864.3" stroke-width="1.83"/>
<path d="M1536.8,1832.1 L1543.9,1851.8" stroke-width="1.83"/>
<path d="M1558.2,1823.2 L1567.1,1839.3" stroke-width="1.83"/>
<path d="M1567.1,1841.1 L1570.7,1846.4" stroke-width="1.83"/>
</g>
<g id="17_h">
<path d="M1660.0,1738.4 L1727.9,1742.9" stroke-width="2.32"/>
<path d="M1660.0,1764.3 L1720.7,1769.6" stroke-width="2.32"/>
<path d="M1660.0,1783.9 L1677.9,1777.7 L1724.3,1780.4" stroke-width="2.32"/>
<path d="M1717.1,1753.6 L1742.1,1737.5 L1749.3,1735.7 L1855.5,1742.9" stroke-width="2.32"/>
<path d="M1855.5,1742.9 C1856.0,1743.8 1857.6,1746.1 1858.2,1748.2 C1858.8,1750.3 1859.0,1754.2 1859.1,1755.4" stroke-width="2.32"/>
<path d="M1849.3,1742.9 L1827.9,1760.7" stroke-width="2.32"/>
<path d="M1717.1,1753.6 L1726.1,1778.6 L1731.4,1780.4 L1742.1,1774.1" stroke-width="2.32"/>
<path d="M1717.1,1753.6 L1720.7,1757.1 L1749.3,1753.6 L1756.4,1755.4 L1761.8,1764.3 L1781.4,1768.8" stroke-width="2.32"/>
<path d="M1742.1,1757.1 L1742.1,1774.1" stroke-width="2.32"/>
<path d="M1720.7,1757.1 L1727.9,1778.6" stroke-width="2.32"/>
<path d="M1731.4,1780.4 L1743.9,1779.5" stroke-width="2.32"/>
<ellipse cx="1742.5" cy="1745.5" rx="7.5" ry="2.7" transform="rotate(-15 1742.5 1745.5)" stroke-width="2.32"/>
<ellipse cx="1774.3" cy="1755.4" rx="8.0" ry="2.7" transform="rotate(-15 1774.3 1755.4)" stroke-width="2.32"/>
<ellipse cx="1774.3" cy="1781.8" rx="6.2" ry="2.1" transform="rotate(-15 1774.3 1781.8)" stroke-width="2.32"/>
<ellipse cx="1760.0" cy="1798.6" rx="15.2" ry="3.2" transform="rotate(5 1760.0 1798.6)" stroke-width="2.32"/>
<ellipse cx="1755.5" cy="1808.6" rx="4.5" ry="1.8" stroke-width="2.32"/>
<path d="M1781.4,1760.7 L1808.2,1744.6 L1827.9,1748.2 L1827.0,1755.4 L1824.3,1760.7 L1826.1,1775.0 L1811.8,1783.9 L1801.1,1783.9 L1785.0,1780.4Z" stroke-width="3.05"/>
<path d="M1793.9,1757.1 L1820.7,1757.1 L1822.5,1771.4 L1811.8,1780.4 L1799.3,1778.6 L1792.1,1766.1Z" stroke-width="3.05"/>
<path d="M1799.3,1764.3 L1808.2,1764.3 L1808.2,1769.6 L1801.1,1771.4" stroke-width="2.32"/>
<path d="M1808.2,1766.1 L1821.6,1768.8" stroke-width="2.32"/>
<ellipse class="f" cx="1816.2" cy="1751.8" rx="5.0" ry="2.5" stroke-width="2.32"/>
<path d="M1685.0,1812.5 L1711.8,1799.1 L1731.4,1802.7 L1735.0,1807.1 L1727.9,1814.3 L1731.4,1830.4 L1715.4,1838.4 L1704.6,1838.4 L1688.6,1835.7 L1684.1,1828.6Z" stroke-width="3.05"/>
<path d="M1697.5,1812.5 L1726.1,1812.5 L1729.6,1826.8 L1715.4,1835.7 L1702.9,1833.9 L1696.6,1821.4Z" stroke-width="3.05"/>
<path d="M1703.8,1819.6 L1713.6,1819.6 L1713.6,1825.0 L1705.5,1826.8" stroke-width="2.32"/>
<path d="M1713.6,1821.4 L1727.9,1824.1" stroke-width="2.32"/>
<ellipse class="f" cx="1720.7" cy="1807.1" rx="5.0" ry="2.5" stroke-width="2.32"/>
<path d="M1727.9,1799.1 L1781.4,1774.1" stroke-width="2.32"/>
<path d="M1733.2,1830.4 L1802.9,1789.3 L1801.1,1785.7" stroke-width="2.32"/>
<path d="M1660.0,1840.2 L1684.1,1827.7" stroke-width="2.32"/>
<path d="M1660.0,1860.7 L1701.1,1841.1" stroke-width="2.32"/>
<path d="M1826.1,1764.3 L1855.5,1748.2" stroke-width="2.32"/>
<path d="M1812.7,1803.6 L1856.4,1783.9" stroke-width="2.32"/>
<path d="M1674.3,1889.3 L1795.7,1814.3 L1812.7,1803.6" stroke-width="2.32"/>
<ellipse cx="1872.5" cy="1770.5" rx="13.4" ry="17.9" transform="rotate(10 1872.5 1770.5)" stroke-width="3.05"/>
<path d="M1861.8,1785.4 C1861.6,1785.1 1860.9,1784.3 1860.4,1783.6 C1860.0,1783.0 1859.6,1782.3 1859.3,1781.6 C1859.0,1780.9 1858.7,1780.1 1858.4,1779.4 C1858.1,1778.6 1857.9,1777.8 1857.8,1776.9 C1857.6,1776.1 1857.5,1775.3 1857.4,1774.4 C1857.3,1773.5 1857.3,1772.6 1857.3,1771.8 C1857.4,1770.9 1857.4,1770.0 1857.5,1769.1 C1857.7,1768.2 1857.8,1767.3 1858.0,1766.5 C1858.3,1765.6 1858.5,1764.8 1858.8,1763.9 C1859.1,1763.1 1859.5,1762.3 1859.8,1761.5 C1860.2,1760.7 1860.6,1760.0 1861.1,1759.3 C1861.6,1758.6 1862.0,1757.9 1862.6,1757.3 C1863.1,1756.6 1863.6,1756.1 1864.2,1755.5 C1864.8,1755.0 1865.4,1754.5 1866.0,1754.1 C1866.6,1753.7 1867.3,1753.3 1867.9,1753.0 C1868.6,1752.7 1869.6,1752.4 1869.9,1752.2" stroke-width="2.32"/>
<path d="M1855.5,1742.9 C1856.3,1744.6 1859.9,1749.1 1860.0,1753.6 C1860.1,1758.0 1857.0,1764.6 1856.4,1769.6 C1855.8,1774.7 1856.4,1781.5 1856.4,1783.9" stroke-width="2.32"/>
<path d="M1859.1,1753.6 L1865.4,1753.6" stroke-width="2.32"/>
<path d="M1856.4,1783.9 L1863.6,1788.4 L1874.3,1788.4" stroke-width="2.32"/>
<path d="M1796.6,1814.3 L1808.2,1848.2 L1793.0,1857.1 L1793.9,1863.4 L1799.3,1864.3 L1828.8,1850.0 L1827.9,1842.9 L1814.5,1805.4" stroke-width="2.32"/>
<path d="M1811.8,1806.2 L1824.3,1844.6 L1813.6,1845.5" stroke-width="2.32"/>
<ellipse class="f" cx="1804.6" cy="1856.2" rx="5.4" ry="1.8" transform="rotate(-20 1804.6 1856.2)" stroke-width="2.32"/>
<path d="M1660.0,1876.8 C1661.2,1877.4 1665.1,1878.3 1667.1,1880.4 C1669.2,1882.4 1671.6,1886.0 1672.5,1889.3 C1673.4,1892.6 1672.5,1898.2 1672.5,1900.0" stroke-width="3.05"/>
<path d="M1686.8,1882.1 L1693.9,1900.0" stroke-width="2.32"/>
<path d="M1701.1,1872.3 L1711.8,1900.0" stroke-width="2.32"/>
<path d="M1704.6,1871.4 L1715.4,1900.0" stroke-width="2.32"/>
<path d="M1718.9,1900.0 C1720.1,1899.4 1723.1,1896.9 1726.1,1896.4 C1729.0,1896.0 1735.0,1897.2 1736.8,1897.3" stroke-width="2.32"/>
</g>
<g id="18_i">
<path d="M1060.0,1704.5 L1134.1,1742.0" stroke-width="1.83"/>
<path d="M1134.1,1742.0 L1150.2,1733.0 L1172.5,1747.3 L1157.3,1753.6Z" stroke-width="1.83"/>
<path d="M1134.1,1742.0 L1133.2,1755.4 L1151.1,1766.1 L1155.5,1763.4 L1155.5,1754.5" stroke-width="1.83"/>
<path d="M1172.5,1747.3 L1172.5,1760.7 L1157.3,1754.5" stroke-width="1.83"/>
<ellipse class="f" cx="1152.0" cy="1743.8" rx="6.2" ry="2.5" transform="rotate(5 1152.0 1743.8)" stroke-width="1.83"/>
<path d="M1171.6,1761.6 C1173.8,1763.2 1180.4,1767.7 1185.0,1771.4 C1189.6,1775.1 1194.8,1779.8 1199.3,1783.9 C1203.8,1788.1 1207.3,1792.0 1211.8,1796.4 C1216.2,1800.9 1221.6,1806.0 1226.1,1810.7 C1230.5,1815.5 1234.7,1819.9 1238.6,1825.0 C1242.4,1830.1 1246.9,1835.1 1249.3,1841.1 C1251.7,1847.0 1252.3,1857.4 1252.9,1860.7" stroke-width="1.83"/>
<path d="M1067.1,1742.9 L1133.2,1776.8" stroke-width="1.83"/>
<path d="M1133.2,1776.8 C1136.5,1778.9 1146.0,1784.2 1152.9,1789.3 C1159.7,1794.3 1168.3,1801.8 1174.3,1807.1 C1180.2,1812.5 1183.8,1816.7 1188.6,1821.4 C1193.3,1826.2 1198.1,1830.7 1202.9,1835.7 C1207.6,1840.8 1212.4,1847.0 1217.1,1851.8 C1221.9,1856.5 1227.0,1861.0 1231.4,1864.3 C1235.9,1867.6 1240.4,1869.3 1243.9,1871.4 C1247.5,1873.5 1251.4,1875.9 1252.9,1876.8" stroke-width="1.83"/>
<path d="M1065.4,1747.3 L1134.1,1779.5" stroke-width="1.83"/>
<path d="M1060.0,1752.7 L1067.1,1746.8" stroke-width="1.83"/>
<path d="M1073.4,1776.8 C1073.8,1775.9 1074.4,1772.5 1076.1,1771.4 C1077.7,1770.4 1081.1,1769.9 1083.2,1770.5 C1085.3,1771.1 1086.5,1773.7 1088.6,1775.0 C1090.7,1776.3 1094.5,1778.0 1095.7,1778.6" stroke-width="1.83"/>
<path d="M1095.7,1778.6 L1107.3,1771.4" stroke-width="1.83"/>
<path d="M1073.4,1776.8 L1068.9,1789.3 L1072.5,1801.8 L1079.6,1802.7 L1087.7,1797.3 L1087.7,1785.7 L1081.4,1782.1" stroke-width="1.83"/>
<ellipse class="f" cx="1076.1" cy="1789.3" rx="2.7" ry="4.5" transform="rotate(-15 1076.1 1789.3)" stroke-width="1.83"/>
<path d="M1063.6,1762.5 L1070.7,1803.6" stroke-width="1.83"/>
<path d="M1060.0,1816.1 L1074.3,1807.1" stroke-width="1.83"/>
<path d="M1079.6,1805.4 L1093.9,1898.2 L1095.7,1932.1" stroke-width="1.83"/>
<path d="M1087.7,1903.6 L1092.1,1898.2 L1098.4,1914.3 L1095.7,1933.9" stroke-width="1.83"/>
<path d="M1098.4,1903.6 L1201.1,1842.9" stroke-width="1.83"/>
<path d="M1208.2,1841.1 L1199.3,1845.5" stroke-width="1.83"/>
<path d="M1208.2,1789.3 L1351.1,1708.0" stroke-width="1.83"/>
<path d="M1351.1,1708.0 C1352.0,1707.7 1354.9,1706.4 1356.4,1706.2 C1357.9,1706.1 1359.4,1707.0 1360.0,1707.1" stroke-width="1.83"/>
<path d="M1240.4,1805.4 L1360.0,1743.8" stroke-width="1.83"/>
<path d="M1199.3,1700.0 L1243.9,1764.3" stroke-width="1.83"/>
<path d="M1211.8,1700.0 L1247.5,1763.4" stroke-width="1.83"/>
<path d="M1197.5,1801.8 C1198.1,1801.0 1199.3,1798.2 1201.1,1797.3 C1202.9,1796.4 1204.9,1796.4 1208.2,1796.4 C1211.5,1796.4 1217.9,1796.7 1220.7,1797.3 C1223.5,1797.9 1224.4,1799.6 1225.2,1800.0" stroke-width="1.83"/>
<path d="M1197.5,1801.8 L1199.3,1814.3 L1202.9,1835.7 L1199.3,1850.0 L1199.3,1860.7" stroke-width="1.83"/>
<path d="M1199.3,1860.7 C1199.9,1862.5 1201.1,1869.0 1202.9,1871.4 C1204.6,1873.8 1208.8,1874.4 1210.0,1875.0" stroke-width="1.83"/>
<path d="M1210.0,1875.0 L1231.4,1864.3" stroke-width="1.83"/>
<ellipse cx="1209.1" cy="1814.3" rx="3.6" ry="6.2" transform="rotate(-15 1209.1 1814.3)" stroke-width="2.68"/>
<ellipse cx="1209.1" cy="1861.6" rx="3.6" ry="6.2" transform="rotate(-15 1209.1 1861.6)" stroke-width="2.68"/>
<path d="M1233.2,1817.9 C1232.6,1819.6 1229.9,1824.4 1229.6,1828.6 C1229.3,1832.7 1229.9,1838.4 1231.4,1842.9 C1232.9,1847.3 1235.9,1851.5 1238.6,1855.4 C1241.2,1859.2 1245.1,1862.8 1247.5,1866.1 C1249.9,1869.3 1252.0,1873.5 1252.9,1875.0" stroke-width="1.83"/>
<path d="M1233.2,1805.4 L1238.6,1803.6 L1242.1,1812.5 L1236.8,1815.2" stroke-width="1.83"/>
<path d="M1240.4,1821.4 C1241.8,1822.6 1246.6,1826.2 1249.3,1828.6 C1252.0,1831.0 1254.3,1833.3 1256.4,1835.7 C1258.5,1838.1 1260.9,1841.7 1261.8,1842.9" stroke-width="1.83"/>
<path d="M1242.1,1817.9 C1244.5,1818.5 1252.6,1819.0 1256.4,1821.4 C1260.3,1823.8 1263.0,1828.9 1265.4,1832.1 C1267.7,1835.4 1269.8,1839.6 1270.7,1841.1" stroke-width="1.83"/>
<path d="M1256.4,1817.9 C1257.9,1819.0 1262.7,1822.0 1265.4,1825.0 C1268.0,1828.0 1271.3,1833.9 1272.5,1835.7" stroke-width="1.83"/>
<path d="M1261.8,1842.9 L1292.1,1848.2 L1310.0,1850.0" stroke-width="1.83"/>
<path d="M1301.1,1821.4 C1301.7,1820.2 1302.6,1815.8 1304.6,1814.3 C1306.7,1812.8 1310.3,1811.9 1313.6,1812.5 C1316.8,1813.1 1320.7,1815.2 1324.3,1817.9 C1327.9,1820.5 1332.3,1824.7 1335.0,1828.6 C1337.7,1832.4 1339.5,1839.0 1340.4,1841.1" stroke-width="1.83"/>
<ellipse cx="1311.8" cy="1831.2" rx="5.4" ry="3.6" transform="rotate(20 1311.8 1831.2)" stroke-width="3.05"/>
<path d="M1301.1,1821.4 L1299.3,1835.7 L1306.4,1848.2" stroke-width="1.83"/>
<path d="M1315.4,1851.8 C1316.0,1850.9 1316.8,1847.3 1318.9,1846.4 C1321.0,1845.5 1325.5,1845.5 1327.9,1846.4 C1330.2,1847.3 1332.3,1850.9 1333.2,1851.8" stroke-width="1.83"/>
<ellipse cx="1329.6" cy="1864.3" rx="2.7" ry="3.9" transform="rotate(-10 1329.6 1864.3)" stroke-width="1.83"/>
<path d="M1335.0,1853.6 C1335.9,1854.5 1339.0,1856.5 1340.4,1858.9 C1341.7,1861.3 1342.6,1866.4 1343.0,1867.9" stroke-width="1.83"/>
<path d="M1256.4,1796.4 L1270.7,1814.3 L1290.4,1842.9 L1299.3,1848.2" stroke-width="1.83"/>
<path d="M1258.2,1796.4 C1259.4,1798.2 1261.2,1804.5 1265.4,1807.1 C1269.5,1809.8 1276.7,1811.9 1283.2,1812.5 C1289.8,1813.1 1301.1,1811.0 1304.6,1810.7" stroke-width="1.83"/>
<path d="M1281.4,1807.1 L1306.4,1796.4" stroke-width="1.83"/>
<path d="M1310.0,1771.4 L1327.9,1775.0" stroke-width="1.83"/>
<path d="M1306.4,1771.4 C1307.6,1774.4 1310.6,1784.5 1313.6,1789.3 C1316.5,1794.0 1320.1,1797.0 1324.3,1800.0 C1328.5,1803.0 1332.6,1806.0 1338.6,1807.1 C1344.5,1808.3 1356.4,1807.1 1360.0,1807.1" stroke-width="1.83"/>
<path d="M1318.9,1760.7 L1327.9,1780.4 L1333.2,1800.0" stroke-width="1.83"/>
<path d="M1352.9,1810.7 L1360.0,1814.3" stroke-width="1.83"/>
<path d="M1261.8,1726.8 C1263.3,1726.2 1267.7,1724.0 1270.7,1723.2 C1273.7,1722.5 1276.4,1722.3 1279.6,1722.3 C1282.9,1722.3 1288.6,1723.1 1290.4,1723.2" stroke-width="1.83"/>
<path d="M1288.6,1723.2 L1299.3,1733.9" stroke-width="1.83"/>
<ellipse cx="1286.4" cy="1734.8" rx="2.1" ry="3.6" transform="rotate(-10 1286.4 1734.8)" stroke-width="1.83"/>
<path d="M1246,1737 L1256,1733 M1264,1735 L1272,1731 M1283,1729 L1290,1726 M1290,1750 L1297,1747 M1276,1759 L1283,1756 M1297,1743 L1299,1749" style="stroke-width:2"/>
<path d="M1279.6,1700.0 L1288.6,1708.9" stroke-width="1.83"/>
<path d="M1258.2,1700.0 L1263.6,1702.7 L1268.9,1700.9" stroke-width="3.66"/>
<path d="M1338.6,1825.0 C1339.8,1824.4 1343.0,1821.7 1345.7,1821.4 C1348.4,1821.1 1352.3,1823.2 1354.6,1823.2 C1357.0,1823.2 1359.1,1821.7 1360.0,1821.4" stroke-width="1.83"/>
<ellipse cx="1343.9" cy="1826.8" rx="2.1" ry="3.2" stroke-width="1.83"/>
<path d="M1336.8,1842.9 L1360.0,1833.9" stroke-width="3.05"/>
<path d="M1338.6,1848.2 L1360.0,1842.9" stroke-width="3.05"/>
<path d="M1252.0,1860.7 L1258.2,1857.1 L1265.4,1857.1 L1267.1,1863.4 L1279.6,1858.0 L1285.0,1858.9 L1286.8,1876.8 L1274.3,1883.9 L1258.2,1887.5 L1254.6,1875.0 L1252.0,1860.7" stroke-width="1.83"/>
<ellipse cx="1260.9" cy="1875.0" rx="3.9" ry="6.8" transform="rotate(-10 1260.9 1875.0)" stroke-width="3.05"/>
<path d="M1257.3,1848.2 L1257.3,1860.7" stroke-width="1.83"/>
<path d="M1270.7,1866.1 L1274.3,1882.1" stroke-width="1.83"/>
<path d="M1238.6,1878.6 L1247.5,1876.8" stroke-width="1.83"/>
<path d="M1242.1,1873.2 L1243.9,1883.9" stroke-width="1.83"/>
<path d="M1245.7,1872.3 L1247.5,1883.0" stroke-width="1.83"/>
<path d="M1231.4,1891.1 L1256.4,1878.6" stroke-width="1.83"/>
<path d="M1233.2,1905.4 L1285.0,1878.6" stroke-width="3.05"/>
<path d="M1242.1,1908.9 L1288.6,1883.9" stroke-width="1.83"/>
<path d="M1191.2,1883.9 C1192.0,1882.7 1193.5,1878.0 1195.7,1876.8 C1197.9,1875.6 1202.0,1876.2 1204.6,1876.8 C1207.3,1877.4 1209.1,1878.3 1211.8,1880.4 C1214.5,1882.4 1218.0,1885.7 1220.7,1889.3 C1223.4,1892.9 1225.8,1898.8 1227.9,1901.8 C1229.9,1904.8 1232.3,1906.2 1233.2,1907.1" stroke-width="1.83"/>
<path d="M1191.2,1883.9 L1188.6,1896.4 L1192.1,1908.9" stroke-width="1.83"/>
<path d="M1195.7,1883.9 C1196.9,1883.6 1200.2,1881.5 1202.9,1882.1 C1205.5,1882.7 1209.1,1885.1 1211.8,1887.5 C1214.5,1889.9 1216.8,1893.5 1218.9,1896.4 C1221.0,1899.4 1223.4,1903.9 1224.3,1905.4" stroke-width="1.83"/>
<ellipse cx="1207.3" cy="1892.0" rx="5.4" ry="3.6" transform="rotate(20 1207.3 1892.0)" stroke-width="3.05"/>
<path d="M1193.0,1885.7 L1199.3,1910.7" stroke-width="1.83"/>
<path d="M1220.7,1880.4 L1227.9,1878.6 L1231.4,1889.3 L1227.9,1891.1" stroke-width="1.83"/>
<path d="M1171.6,1885.7 C1172.6,1886.6 1175.6,1890.0 1177.9,1891.1 C1180.1,1892.1 1183.2,1892.6 1185.0,1892.0 C1186.8,1891.4 1188.0,1888.2 1188.6,1887.5" stroke-width="2.68"/>
<path d="M1171.6,1887.5 L1177.9,1901.8 L1176.1,1914.3 L1170.7,1923.2 L1172.5,1932.1" stroke-width="1.83"/>
<path d="M1145.7,1885.7 L1188.6,1908.9" stroke-width="1.83"/>
<path d="M1120.7,1891.1 L1135.0,1885.7 L1145.7,1885.7" stroke-width="1.83"/>
<path d="M1120.7,1892.9 C1121.3,1894.0 1124.6,1896.7 1124.3,1900.0 C1124.0,1903.3 1118.9,1908.3 1118.9,1912.5 C1118.9,1916.7 1122.8,1920.5 1124.3,1925.0 C1125.8,1929.5 1127.9,1935.1 1127.9,1939.3 C1127.9,1943.5 1124.9,1948.2 1124.3,1950.0" stroke-width="1.83"/>
<path d="M1126.1,1951.8 L1202.9,1910.7" stroke-width="1.83"/>
<path d="M1199.3,1910.7 L1208.2,1914.3 L1217.1,1946.4 L1220.7,1958.9 L1211.8,1964.3 L1201.1,1961.6" stroke-width="3.05"/>
<ellipse cx="1220.7" cy="1918.8" rx="3.6" ry="4.5" stroke-width="1.83"/>
<path d="M1227.9,1917.9 L1238.6,1918.8" stroke-width="1.83"/>
<ellipse class="f" cx="1248.4" cy="1917.0" rx="2.7" ry="2.7" stroke-width="1.83"/>
<path d="M1240.4,1910.7 L1242.1,1926.8" stroke-width="3.05"/>
<path d="M1254.6,1914.3 C1254.9,1913.5 1255.2,1910.7 1256.4,1909.8 C1257.6,1908.9 1260.9,1909.1 1261.8,1908.9" stroke-width="1.83"/>
<path d="M1234.1,1937.5 L1242.1,1930.4 L1272.5,1930.4 L1283.2,1933.9 L1281.4,1950.0 L1274.3,1957.1 L1245.7,1963.4 L1234.1,1937.5" stroke-width="1.83"/>
<ellipse cx="1250.2" cy="1942.0" rx="5.4" ry="8.9" transform="rotate(-20 1250.2 1942.0)" stroke-width="3.66"/>
<ellipse cx="1250.2" cy="1942.0" rx="8.0" ry="11.6" transform="rotate(-20 1250.2 1942.0)" stroke-width="1.83"/>
<path d="M1260.0,1933.9 L1270.7,1955.4" stroke-width="1.83"/>
<ellipse cx="1204.6" cy="1945.5" rx="3.9" ry="6.2" transform="rotate(-10 1204.6 1945.5)" stroke-width="3.05"/>
<ellipse cx="1172.5" cy="1964.3" rx="3.9" ry="6.8" transform="rotate(-15 1172.5 1964.3)" stroke-width="3.05"/>
<ellipse class="f" cx="1194.8" cy="1948.2" rx="2.7" ry="2.7" stroke-width="3.05"/>
<path d="M1177.9,1950.0 C1179.0,1951.2 1183.2,1954.2 1185.0,1957.1 C1186.8,1960.1 1188.6,1964.3 1188.6,1967.9 C1188.6,1971.4 1186.2,1975.9 1185.0,1978.6 C1183.8,1981.2 1182.0,1983.0 1181.4,1983.9" stroke-width="1.83"/>
<path d="M1170.7,1950.0 C1171.3,1951.2 1172.5,1955.7 1174.3,1957.1 C1176.1,1958.6 1179.6,1959.5 1181.4,1958.9 C1183.2,1958.3 1184.4,1954.5 1185.0,1953.6" stroke-width="1.83"/>
<path d="M1160.0,1977.7 L1183.2,1983.9" stroke-width="1.83"/>
<path d="M1167.1,1950.0 L1202.9,1930.4" stroke-width="1.83"/>
<path d="M1174.3,1941.1 L1199.3,1926.8" stroke-width="1.83"/>
<path d="M1213.6,1932.1 C1214.8,1933.6 1219.2,1937.5 1220.7,1941.1 C1222.2,1944.6 1223.1,1950.0 1222.5,1953.6 C1221.9,1957.1 1220.4,1961.0 1217.1,1962.5 C1213.9,1964.0 1205.2,1962.5 1202.9,1962.5" stroke-width="1.83"/>
<path d="M1242.1,1926.8 L1335.0,1887.5" stroke-width="1.83"/>
<path d="M1279.6,1930.4 L1360.0,1903.6" stroke-width="1.83"/>
<path d="M1283.2,1971.4 L1360.0,1939.3" stroke-width="1.83"/>
<path d="M1285.0,1878.6 L1360.0,1889.3" stroke-width="1.83"/>
<path d="M1292.1,1882.1 L1360.0,1890.7" stroke-width="1.83"/>
<path d="M1277.9,1928.6 L1301.1,1916.1 L1304.6,1910.7" stroke-width="1.83"/>
<path d="M1301.1,1916.1 L1327.9,1908.9" stroke-width="1.83"/>
<path d="M1318.9,1896.4 L1322.5,1905.4" stroke-width="1.83"/>
<path d="M1331.4,1892.9 L1335.0,1908.9" stroke-width="1.83"/>
<path d="M1349.3,1889.3 L1352.9,1900.0" stroke-width="1.83"/>
<path d="M1060.0,1905.4 L1088.6,1901.8" stroke-width="1.83"/>
<path d="M1060.0,1925.0 L1081.4,1921.4" stroke-width="1.83"/>
<path d="M1081.4,1905.4 C1081.7,1908.3 1081.7,1917.9 1083.2,1923.2 C1084.7,1928.6 1087.4,1933.9 1090.4,1937.5 C1093.3,1941.1 1096.9,1942.9 1101.1,1944.6 C1105.2,1946.4 1113.0,1947.6 1115.4,1948.2" stroke-width="1.83"/>
<path d="M1088.6,1905.4 C1088.9,1908.0 1089.2,1916.7 1090.4,1921.4 C1091.5,1926.2 1093.0,1930.7 1095.7,1933.9 C1098.4,1937.2 1104.6,1939.9 1106.4,1941.1" stroke-width="1.83"/>
<path d="M1077.9,1928.6 L1067.1,1950.0 L1060.0,1946.4" stroke-width="1.83"/>
<path d="M1090.4,1952.7 L1110.0,1951.8" stroke-width="1.83"/>
<path d="M1070.7,1960.7 L1083.2,1953.6" stroke-width="1.83"/>
<path d="M1104.6,1953.6 C1104.0,1955.4 1100.5,1960.7 1101.1,1964.3 C1101.7,1967.9 1106.1,1971.4 1108.2,1975.0 C1110.3,1978.6 1113.9,1982.7 1113.6,1985.7 C1113.3,1988.7 1107.6,1991.7 1106.4,1992.9" stroke-width="1.83"/>
<path d="M1113.6,1950.0 L1118.9,1962.5 L1133.2,1967.9" stroke-width="1.83"/>
<path d="M1060.0,2000.0 C1060.6,1996.4 1061.8,1984.5 1063.6,1978.6 C1065.4,1972.6 1069.5,1966.7 1070.7,1964.3" stroke-width="1.83"/>
<path d="M1104.6,1992.9 L1160.0,1987.5 L1281.4,1973.2" stroke-width="1.83"/>
<path d="M1060.0,2000.0 L1104.6,1994.6" stroke-width="1.83"/>
<path d="M1185.0,2000.0 C1185.3,1998.8 1185.3,1994.3 1186.8,1992.9 C1188.3,1991.4 1191.8,1989.9 1193.9,1991.1 C1196.0,1992.3 1198.4,1998.5 1199.3,2000.0" stroke-width="3.05"/>
<path d="M1206.4,2000.0 C1206.7,1998.5 1206.7,1992.6 1208.2,1991.1 C1209.7,1989.6 1213.6,1989.6 1215.4,1991.1 C1217.1,1992.6 1218.3,1998.5 1218.9,2000.0" stroke-width="3.05"/>
<ellipse cx="1308.2" cy="1994.6" rx="6.8" ry="8.0" transform="rotate(-20 1308.2 1994.6)" stroke-width="3.05"/>
<path d="M1331.4,2000.0 C1332.6,1997.6 1335.6,1989.9 1338.6,1985.7 C1341.5,1981.5 1345.7,1978.0 1349.3,1975.0 C1352.9,1972.0 1358.2,1969.0 1360.0,1967.9" stroke-width="1.83"/>
<path d="M1338.6,2000.0 C1339.8,1997.9 1342.1,1991.7 1345.7,1987.5 C1349.3,1983.3 1357.6,1977.1 1360.0,1975.0" stroke-width="1.83"/>
<path d="M1293.9,1975.0 L1299.3,1989.3" stroke-width="1.83"/>
<path d="M1317.1,1964.3 L1324.3,1982.1" stroke-width="1.83"/>
<path d="M1222.5,1978.6 L1292.1,1971.4" stroke-width="1.83"/>
<path d="M1265.4,1978.6 L1270.7,2000.0" stroke-width="1.83"/>
<path d="M1252.9,1985.7 L1261.8,1994.6" stroke-width="1.83"/>
</g>
<g id="19_j">
<path d="M987.3,1700.0 L998.9,1732.1 L1007.9,1769.6" stroke-width="1.83"/>
<path d="M969.5,1738.4 L997.1,1724.1" stroke-width="1.83"/>
<path d="M969.5,1738.4 L971.2,1744.6 L982.9,1764.3 L990.0,1771.4 L998.9,1770.5 L1017.7,1761.6 L1015.0,1748.2 L1009.6,1746.4 L1002.5,1751.8" stroke-width="1.83"/>
<path d="M978.4,1737.5 L995.4,1726.8" stroke-width="1.83"/>
<path d="M978.4,1738.4 C979.4,1739.4 982.4,1743.3 984.6,1744.6 C986.9,1746.0 990.0,1744.9 991.8,1746.4 C993.6,1747.9 994.8,1752.4 995.4,1753.6" stroke-width="1.83"/>
<ellipse cx="989.1" cy="1755.4" rx="3.9" ry="7.5" transform="rotate(-20 989.1 1755.4)" stroke-width="2.68"/>
<path d="M1000.7,1753.6 L1007.9,1766.1" stroke-width="1.83"/>
<path d="M1006.1,1776.8 L1011.4,1778.6 L1015.9,1783.9 L1027.5,1923.2 L1029.3,1950.0" stroke-width="1.83"/>
<path d="M1006.1,1776.8 L1007.9,1800.0 L1025.7,1901.8" stroke-width="1.83"/>
<path d="M1007.9,1801.8 L1000.7,1848.2" stroke-width="1.83"/>
<path d="M1025.7,1762.5 L1040.0,1848.2 L1043.6,1848.2 L1045.4,1825.0" stroke-width="1.83"/>
<path d="M1040.9,1826.8 C1041.9,1825.6 1043.7,1821.7 1047.1,1819.6 C1050.6,1817.6 1056.4,1816.7 1061.4,1814.3 C1066.5,1811.9 1074.8,1806.8 1077.5,1805.4" stroke-width="1.83"/>
<path d="M1025.7,1762.5 L1029.3,1758.9 L1063.2,1753.6 L1066.8,1750.0" stroke-width="1.83"/>
<path d="M1027.5,1771.4 C1027.8,1783.3 1028.4,1822.3 1029.3,1842.9 C1030.2,1863.4 1031.7,1884.2 1032.9,1894.6 C1034.0,1905.1 1034.3,1903.0 1036.4,1905.4 C1038.5,1907.7 1040.6,1908.6 1045.4,1908.9 C1050.1,1909.2 1057.3,1908.6 1065.0,1907.1 C1072.7,1905.7 1087.3,1901.2 1091.8,1900.0" stroke-width="1.83"/>
<path d="M1065.0,1743.8 L1067.1,1742.9" stroke-width="1.83"/>
<path d="M1065.0,1743.8 L1066.8,1749.1" stroke-width="1.83"/>
<path d="M1050.7,1700.0 C1049.8,1701.8 1046.2,1706.2 1045.4,1710.7 C1044.5,1715.2 1044.2,1722.3 1045.4,1726.8 C1046.5,1731.2 1049.8,1734.7 1052.5,1737.5 C1055.2,1740.3 1059.9,1742.7 1061.4,1743.8" stroke-width="1.83"/>
<path d="M981.1,1854.5 L986.4,1850.9 L1011.4,1849.1 L1013.2,1852.7 L997.1,1858.9 L981.1,1854.5" stroke-width="1.83"/>
<path d="M981.1,1854.5 L984.6,1871.4 L988.2,1882.1 L972.1,1893.8" stroke-width="1.83"/>
<path d="M997.1,1858.9 L1002.5,1878.6 L1004.3,1887.5 L990.0,1898.2" stroke-width="1.83"/>
<path d="M972.1,1893.8 L977.5,1921.4 L993.6,1925.0 L1009.6,1916.1" stroke-width="1.83"/>
<path d="M990.0,1898.2 L993.6,1914.3" stroke-width="1.83"/>
<ellipse class="f" cx="991.8" cy="1872.3" rx="2.7" ry="4.5" transform="rotate(-15 991.8 1872.3)" stroke-width="1.83"/>
<ellipse class="f" cx="982.9" cy="1909.8" rx="3.2" ry="5.0" transform="rotate(-15 982.9 1909.8)" stroke-width="1.83"/>
<path d="M1006.1,1901.8 C1006.7,1901.2 1007.9,1898.8 1009.6,1898.2 C1011.4,1897.6 1015.6,1898.2 1016.8,1898.2" stroke-width="1.83"/>
<path d="M1007.0,1903.6 L1018.6,1910.7" stroke-width="3.05"/>
<ellipse cx="1023.9" cy="1921.4" rx="3.9" ry="6.8" transform="rotate(-20 1023.9 1921.4)" stroke-width="3.05"/>
<path d="M1011.4,1914.3 L1016.8,1932.1" stroke-width="1.83"/>
<path d="M1013.2,1942.9 C1013.5,1942.0 1013.8,1938.7 1015.0,1937.5 C1016.2,1936.3 1019.5,1936.0 1020.4,1935.7" stroke-width="1.83"/>
<path d="M1014.1,1945.5 L1022.1,1949.1" stroke-width="3.05"/>
<path d="M1029.3,1950.0 L1066.8,1949.1" stroke-width="1.83"/>
<path d="M1027.5,1926.8 L1079.3,1921.4" stroke-width="1.83"/>
<path d="M1040.0,1926.8 L1066.8,1949.1" stroke-width="1.83"/>
<path d="M1068.6,1948.2 L1078.4,1928.6" stroke-width="1.83"/>
<path d="M1065.0,1950.0 L1068.6,1971.4" stroke-width="1.83"/>
<path d="M986.4,1923.2 L979.3,1971.4" stroke-width="1.83"/>
<path d="M1068.6,1964.3 L1084.6,1953.6" stroke-width="1.83"/>
</g>
<g id="20_k">
<path d="M981.1,1960.0 L973.9,1974.3 L969.5,2013.6 L966.8,2045.7 L966.4,2165.4" stroke-width="1.83"/>
<path d="M966.4,2165.4 C966.6,2167.4 966.7,2174.0 967.7,2177.9 C968.6,2181.7 969.9,2185.0 972.1,2188.6 C974.4,2192.1 979.6,2197.5 981.1,2199.3" stroke-width="1.83"/>
<path d="M981.1,2199.3 L1031.1,2260.0" stroke-width="1.83"/>
<ellipse cx="998.0" cy="1990.4" rx="22.3" ry="29.5" transform="rotate(-15 998.0 1990.4)" stroke-width="1.83"/>
<ellipse cx="993.6" cy="1994.8" rx="17.0" ry="23.6" transform="rotate(-15 993.6 1994.8)" stroke-width="3.05"/>
<ellipse cx="992.7" cy="1995.7" rx="14.6" ry="21.1" transform="rotate(-15 992.7 1995.7)" stroke-width="1.83"/>
<path d="M982.9,1965.4 C984.6,1964.0 989.1,1957.9 993.6,1957.3 C998.0,1956.7 1005.5,1958.4 1009.6,1961.8 C1013.8,1965.2 1016.2,1972.2 1018.6,1977.9 C1021.0,1983.5 1023.3,1989.8 1023.9,1995.7 C1024.5,2001.7 1022.4,2010.6 1022.1,2013.6" stroke-width="1.83"/>
<ellipse cx="1047.1" cy="1995.7" rx="11.6" ry="19.6" transform="rotate(-15 1047.1 1995.7)" stroke-width="1.83"/>
<ellipse class="f" cx="1047.7" cy="1996.6" rx="3.9" ry="5.7" transform="rotate(-15 1047.7 1996.6)" stroke-width="1.83"/>
<path d="M1044.5,1977.0 C1045.8,1976.5 1050.0,1973.5 1052.5,1974.3 C1055.0,1975.0 1057.9,1977.9 1059.6,1981.4 C1061.4,1985.0 1062.6,1993.3 1063.2,1995.7" stroke-width="1.83"/>
<path d="M971.2,2044.8 L1002.5,2043.9" stroke-width="1.83"/>
<path d="M1002.5,2043.9 C1003.7,2043.5 1007.9,2042.4 1009.6,2041.2 C1011.4,2040.1 1012.6,2037.5 1013.2,2036.8" stroke-width="1.83"/>
<path d="M1015.0,2029.6 C1015.6,2028.2 1016.5,2022.5 1018.6,2020.7 C1020.7,2018.9 1024.8,2018.0 1027.5,2018.9 C1030.2,2019.8 1032.6,2022.5 1034.6,2026.1 C1036.7,2029.6 1039.1,2038.0 1040.0,2040.4" stroke-width="1.83"/>
<path d="M1015.0,2029.6 L1018.6,2049.3 L1020.4,2056.4" stroke-width="1.83"/>
<ellipse class="f" cx="1026.2" cy="2038.6" rx="3.9" ry="5.4" transform="rotate(-15 1026.2 2038.6)" stroke-width="1.83"/>
<path d="M1029.3,2020.7 C1030.5,2021.6 1034.3,2023.4 1036.4,2026.1 C1038.5,2028.8 1040.6,2032.9 1041.8,2036.8 C1043.0,2040.7 1043.3,2047.2 1043.6,2049.3" stroke-width="1.83"/>
<path d="M1061.4,2006.4 C1060.5,2008.5 1057.6,2013.3 1056.1,2018.9 C1054.6,2024.6 1052.8,2033.5 1052.5,2040.4 C1052.2,2047.2 1054.0,2056.7 1054.3,2060.0" stroke-width="1.83"/>
<path d="M1065.0,2008.2 C1066.2,2007.0 1068.6,2002.7 1072.1,2001.1 C1075.7,1999.4 1080.8,1999.1 1086.4,1998.4 C1092.1,1997.6 1102.8,1996.9 1106.1,1996.6" stroke-width="2.68"/>
<path d="M1070.4,2011.8 C1069.2,2013.6 1065.0,2017.7 1063.2,2022.5 C1061.4,2027.3 1059.6,2034.1 1059.6,2040.4 C1059.6,2046.6 1061.1,2054.0 1063.2,2060.0 C1065.3,2066.0 1068.9,2071.3 1072.1,2076.1 C1075.4,2080.8 1079.9,2084.4 1082.9,2088.6 C1085.8,2092.7 1088.5,2096.9 1090.0,2101.1 C1091.5,2105.2 1092.7,2108.8 1091.8,2113.6 C1090.9,2118.3 1087.0,2124.0 1084.6,2129.6 C1082.3,2135.3 1079.3,2141.5 1077.5,2147.5 C1075.7,2153.5 1074.7,2158.5 1073.9,2165.4 C1073.2,2172.2 1073.0,2181.1 1073.0,2188.6 C1073.0,2196.0 1074.7,2204.6 1073.9,2210.0 C1073.2,2215.4 1069.5,2218.9 1068.6,2220.7" stroke-width="1.83"/>
<path d="M1067.7,2010.0 C1066.6,2011.8 1063.1,2015.7 1061.4,2020.7 C1059.8,2025.8 1057.9,2033.5 1057.9,2040.4 C1057.9,2047.2 1059.3,2055.5 1061.4,2061.8 C1063.5,2068.0 1067.1,2073.1 1070.4,2077.9 C1073.6,2082.6 1078.1,2086.2 1081.1,2090.4 C1084.0,2094.5 1086.8,2099.0 1088.2,2102.9 C1089.6,2106.7 1090.5,2109.1 1089.6,2113.6 C1088.8,2118.0 1085.2,2124.0 1082.9,2129.6 C1080.5,2135.3 1077.6,2141.5 1075.7,2147.5 C1073.9,2153.5 1072.5,2157.9 1071.8,2165.4 C1071.0,2172.8 1071.3,2187.7 1071.2,2192.1" stroke-width="1.83"/>
<path d="M1040.0,2040.4 C1040.6,2043.6 1041.8,2054.0 1043.6,2060.0 C1045.4,2066.0 1047.7,2071.0 1050.7,2076.1 C1053.7,2081.1 1057.9,2085.9 1061.4,2090.4 C1065.0,2094.8 1069.8,2098.7 1072.1,2102.9 C1074.5,2107.0 1075.4,2110.9 1075.7,2115.4 C1076.0,2119.8 1075.7,2124.3 1073.9,2129.6 C1072.1,2135.0 1067.4,2142.1 1065.0,2147.5 C1062.6,2152.9 1061.0,2155.8 1059.6,2161.8 C1058.3,2167.7 1057.6,2175.2 1057.0,2183.2 C1056.4,2191.2 1056.1,2202.6 1056.1,2210.0 C1056.1,2217.4 1056.8,2224.9 1057.0,2227.9" stroke-width="1.83"/>
<path d="M1054.3,2011.8 L1045.4,2031.4 L1041.8,2043.9" stroke-width="1.83"/>
<ellipse cx="993.6" cy="2118.9" rx="9.8" ry="15.2" transform="rotate(-20 993.6 2118.9)" stroke-width="4.27"/>
<ellipse cx="1059.3" cy="2112.7" rx="4.5" ry="7.1" transform="rotate(-20 1059.3 2112.7)" stroke-width="4.27"/>
<ellipse cx="1017.7" cy="2163.6" rx="10.7" ry="17.0" transform="rotate(-20 1017.7 2163.6)" stroke-width="1.83"/>
<ellipse cx="1017.7" cy="2163.6" rx="6.2" ry="9.3" transform="rotate(-20 1017.7 2163.6)" stroke-width="3.66"/>
<ellipse cx="1017.7" cy="2163.6" rx="3.2" ry="5.0" transform="rotate(-20 1017.7 2163.6)" stroke-width="1.83"/>
<ellipse class="f" cx="992.7" cy="2194.8" rx="3.6" ry="5.7" transform="rotate(-20 992.7 2194.8)" stroke-width="1.83"/>
<ellipse cx="1027.5" cy="2224.3" rx="10.7" ry="16.1" transform="rotate(-20 1027.5 2224.3)" stroke-width="1.83"/>
<ellipse cx="1027.5" cy="2224.3" rx="5.0" ry="8.0" transform="rotate(-20 1027.5 2224.3)" stroke-width="1.83"/>
<ellipse cx="1040.0" cy="2210.0" rx="3.6" ry="6.8" transform="rotate(-20 1040.0 2210.0)" stroke-width="3.66"/>
<path d="M978.4,2179.6 L982.0,2185.0 L982.9,2199.3" stroke-width="1.83"/>
<path d="M990.0,2210.0 C991.2,2209.6 995.1,2207.5 997.1,2207.3 C999.2,2207.2 1000.9,2208.4 1002.5,2209.1 C1004.1,2209.9 1006.2,2211.3 1007.0,2211.8" stroke-width="1.83"/>
<path d="M1011.4,2193.9 L1047.1,2174.3" stroke-width="1.83"/>
<path d="M1015.0,2185.0 L1013.2,2199.3" stroke-width="1.83"/>
<path d="M1038.2,2163.6 L1043.6,2167.1" stroke-width="3.05"/>
<path d="M1041.8,2174.3 L1045.4,2179.6" stroke-width="3.05"/>
<path d="M1054.3,2172.5 L1059.6,2185.0" stroke-width="3.05"/>
<path d="M1061.4,2172.5 L1066.8,2179.6" stroke-width="3.05"/>
<path d="M1023.9,2149.3 C1024.8,2149.6 1027.8,2150.2 1029.3,2151.1 C1030.8,2152.0 1032.3,2154.0 1032.9,2154.6" stroke-width="1.83"/>
<path d="M1073.9,2173.4 L1240.0,2083.2" stroke-width="1.83"/>
<path d="M1125.7,2203.8 L1163.2,2177.9 L1240.0,2137.7" stroke-width="1.83"/>
<path d="M1040.0,2235.0 L1068.6,2220.7" stroke-width="1.83"/>
<path d="M1050.7,2243.9 L1120.4,2210.0" stroke-width="1.83"/>
<path d="M1120.4,2203.8 L1125.7,2204.6 L1120.4,2260.0" stroke-width="1.83"/>
<path d="M1118.6,2206.4 L1122.1,2208.2 L1116.8,2260.0" stroke-width="1.83"/>
<path d="M1163.2,2177.9 L1168.6,2176.1 L1173.9,2181.4 L1168.6,2231.4 L1163.2,2235.0" stroke-width="1.83"/>
<path d="M1166.8,2179.6 L1170.4,2183.2 L1165.0,2233.2" stroke-width="1.83"/>
<path d="M1125.7,2206.4 C1126.3,2209.1 1126.9,2217.4 1129.3,2222.5 C1131.7,2227.6 1136.1,2233.7 1140.0,2236.8 C1143.9,2239.9 1148.6,2241.5 1152.5,2241.2 C1156.4,2241.0 1161.4,2236.0 1163.2,2235.0" stroke-width="1.83"/>
<ellipse cx="1147.1" cy="2217.1" rx="4.5" ry="7.1" transform="rotate(-20 1147.1 2217.1)" stroke-width="2.44"/>
<path d="M1189.1,2043.9 L1211.4,2033.2 L1215.9,2038.6" stroke-width="1.83"/>
<ellipse cx="1202.5" cy="2060.0" rx="11.6" ry="17.0" transform="rotate(-15 1202.5 2060.0)" stroke-width="1.83"/>
<ellipse cx="1202.5" cy="2060.0" rx="8.0" ry="12.5" transform="rotate(-15 1202.5 2060.0)" stroke-width="3.05"/>
<path d="M1189.1,2043.9 L1191.8,2063.6 L1197.1,2076.1 L1206.1,2079.6 L1218.6,2074.3" stroke-width="1.83"/>
<path d="M1215.9,2038.6 C1216.6,2038.0 1218.1,2035.3 1220.4,2035.0 C1222.6,2034.7 1227.2,2035.6 1229.3,2036.8 C1231.4,2038.0 1232.3,2041.2 1232.9,2042.1" stroke-width="1.83"/>
<path d="M1215.0,2043.9 L1218.6,2067.1 L1218.6,2074.3" stroke-width="1.83"/>
<path d="M1206.1,2079.6 L1215.0,2093.0" stroke-width="1.83"/>
<path d="M1220.4,2054.6 L1240.0,2065.4" stroke-width="3.05"/>
<path d="M1229.3,2076.1 C1230.2,2075.2 1232.9,2071.9 1234.6,2070.7 C1236.4,2069.5 1239.1,2069.2 1240.0,2068.9" stroke-width="3.05"/>
<path d="M1232.9,2043.9 L1240.0,2026.1" stroke-width="1.83"/>
<ellipse cx="1191.8" cy="1997.5" rx="5.0" ry="8.9" transform="rotate(-20 1191.8 1997.5)" stroke-width="2.44"/>
<ellipse cx="1212.3" cy="1995.7" rx="5.0" ry="8.9" transform="rotate(-20 1212.3 1995.7)" stroke-width="2.44"/>
<path d="M1173.0,1986.8 L1179.3,2002.9 L1195.4,2012.7 L1204.3,2009.1 L1220.4,2008.2 L1225.7,2001.1 L1223.9,1983.2" stroke-width="1.83"/>
<path d="M1159.6,1977.0 L1177.5,1983.2 L1240.0,1977.9" stroke-width="1.83"/>
<path d="M1107.9,1993.0 L1177.5,1983.2" stroke-width="1.83"/>
<path d="M1100.7,1960.0 C1101.6,1961.8 1104.0,1967.4 1106.1,1970.7 C1108.2,1974.0 1112.3,1976.4 1113.2,1979.6 C1114.1,1982.9 1112.6,1987.7 1111.4,1990.4 C1110.2,1993.0 1107.0,1994.8 1106.1,1995.7" stroke-width="1.83"/>
<path d="M1222.1,1981.4 L1240.0,1986.8" stroke-width="3.05"/>
<ellipse cx="1172.1" cy="1965.4" rx="3.2" ry="5.4" transform="rotate(-20 1172.1 1965.4)" stroke-width="3.05"/>
<path d="M1179.3,1960.0 C1181.1,1960.6 1188.2,1961.2 1190.0,1963.6 C1191.8,1966.0 1191.5,1971.0 1190.0,1974.3 C1188.5,1977.6 1182.6,1981.7 1181.1,1983.2" stroke-width="1.83"/>
<path d="M1118.6,1960.0 L1132.9,1968.0" stroke-width="1.83"/>
<path d="M1202.5,1960.0 L1211.4,1965.4 L1222.1,1960.0" stroke-width="1.83"/>
<path d="M994.5,2218.9 C994.6,2221.6 994.3,2229.9 995.4,2235.0 C996.4,2240.1 998.3,2245.1 1000.7,2249.3 C1003.1,2253.5 1008.2,2258.2 1009.6,2260.0" stroke-width="1.83"/>
<path d="M1048.9,2243.9 L1050.7,2252.9 L1057.9,2260.0" stroke-width="1.83"/>
<path d="M1048.9,2245.7 L1082.9,2229.6" stroke-width="1.83"/>
<path d="M1082.9,2229.6 L1091.8,2227.9 L1095.4,2238.6 L1104.3,2252.9" stroke-width="3.05"/>
<path d="M1079.3,2233.2 L1091.8,2260.0" stroke-width="1.83"/>
<ellipse cx="1100.7" cy="2243.9" rx="3.6" ry="6.2" transform="rotate(-20 1100.7 2243.9)" stroke-width="1.83"/>
<path d="M1072.1,2260.0 C1072.7,2258.8 1073.9,2254.3 1075.7,2252.9 C1077.5,2251.4 1080.5,2250.5 1082.9,2251.1 C1085.2,2251.7 1088.8,2255.5 1090.0,2256.4" stroke-width="1.83"/>
</g>
<g id="21_l">
<path d="M1031.1,2260.4 L1041.8,2267.5 L1057.9,2260.4 L1057.9,2253.2 L1050.7,2250.5 L1048.9,2243.4 L1054.3,2241.6" stroke-width="1.83"/>
<path d="M994.5,2219.3 C994.6,2222.0 994.0,2230.0 995.4,2235.4 C996.7,2240.7 999.2,2246.7 1002.5,2251.4 C1005.8,2256.2 1010.5,2260.5 1015.0,2263.9 C1019.5,2267.4 1024.8,2271.2 1029.3,2272.0 C1033.8,2272.7 1039.7,2269.0 1041.8,2268.4" stroke-width="1.83"/>
<path d="M1031.1,2260.4 L1040.9,2237.1" stroke-width="1.83"/>
<ellipse cx="1082.9" cy="2263.9" rx="10.7" ry="15.2" transform="rotate(-15 1082.9 2263.9)" stroke-width="1.83"/>
<ellipse cx="1082.9" cy="2264.8" rx="4.5" ry="7.1" transform="rotate(-15 1082.9 2264.8)" stroke-width="1.83"/>
<path d="M1072.1,2251.4 C1073.6,2250.5 1077.8,2246.4 1081.1,2246.1 C1084.3,2245.8 1088.8,2247.6 1091.8,2249.6 C1094.8,2251.7 1097.1,2255.3 1098.9,2258.6 C1100.7,2261.8 1101.9,2267.5 1102.5,2269.3" stroke-width="1.83"/>
<path d="M1084.6,2279.1 L1107.9,2268.4 L1120.4,2262.1" stroke-width="1.83"/>
<path d="M1091.8,2255.0 L1093.6,2258.6" stroke-width="1.83"/>
<path d="M1091.8,2230.0 C1093.3,2231.8 1098.3,2236.5 1100.7,2240.7 C1103.1,2244.9 1104.9,2250.4 1106.1,2255.0 C1107.3,2259.6 1107.6,2266.2 1107.9,2268.4" stroke-width="3.05"/>
<path d="M1120.4,2260.0 L1120.4,2262.1" stroke-width="1.83"/>
<path d="M1054.3,2242.5 C1055.5,2243.1 1059.0,2244.6 1061.4,2246.1 C1063.8,2247.6 1066.8,2249.3 1068.6,2251.4 C1070.4,2253.5 1071.5,2257.4 1072.1,2258.6" stroke-width="1.83"/>
<path d="M1116.8,2260.0 L1117.7,2263.9" stroke-width="1.83"/>
</g>
<g id="22_m">
<path d="M1360.0,1939.3 L1466.8,1901.4 L1511.4,1904.1" stroke-width="1.83"/>
<path d="M1381.1,1892.5 C1384.3,1891.9 1393.0,1889.7 1400.7,1888.9 C1408.5,1888.2 1420.1,1887.6 1427.5,1888.0 C1434.9,1888.5 1439.4,1889.4 1445.4,1891.6 C1451.3,1893.8 1460.2,1899.8 1463.2,1901.4" stroke-width="1.83"/>
<path d="M1379.3,1893.4 L1407.9,1880.0" stroke-width="1.83"/>
<path d="M1360.0,1903.6 L1381.1,1892.9" stroke-width="1.83"/>
<path d="M1515.0,1880.0 L1511.4,1915.7 L1515.0,1922.0 L1540.0,1922.9" stroke-width="3.05"/>
<path d="M1525.7,1915.7 L1540.0,1912.1" stroke-width="3.05"/>
<path d="M1515.0,1913.9 L1540.0,1905.0" stroke-width="1.83"/>
<path d="M1525.7,1880.0 C1526.0,1881.8 1526.3,1887.7 1527.5,1890.7 C1528.7,1893.7 1530.8,1896.1 1532.9,1897.9 C1534.9,1899.6 1538.8,1900.8 1540.0,1901.4" stroke-width="1.83"/>
<path d="M1372.1,1947.9 L1381.1,1944.3 L1395.4,1948.8" stroke-width="1.83"/>
<path d="M1395.4,1948.8 C1396.8,1950.4 1401.9,1955.1 1404.3,1958.6 C1406.7,1962.0 1408.8,1967.5 1409.6,1969.3" stroke-width="2.44"/>
<path d="M1409.6,1969.3 L1406.1,1977.3 L1401.6,1978.2 L1403.4,1983.6 L1400.7,1987.1 L1395.4,1988.0 L1391.8,1985.4 L1382.9,1988.9 L1373.9,1996.1 L1365.0,1994.3 L1359.6,1998.8 L1348.9,1985.4" stroke-width="1.83"/>
<ellipse class="f" cx="1401.6" cy="1969.3" rx="3.2" ry="3.9" stroke-width="1.83"/>
<ellipse class="f" cx="1367.7" cy="1983.2" rx="4.5" ry="5.4" transform="rotate(-20 1367.7 1983.2)" stroke-width="1.83"/>
<path d="M1372.1,1947.9 L1347.1,1971.1 L1345.4,1981.8 L1348.9,1985.4" stroke-width="1.83"/>
<ellipse cx="1363.2" cy="1935.4" rx="3.6" ry="6.2" transform="rotate(-20 1363.2 1935.4)" stroke-width="1.83"/>
<path d="M1368.6,1938.9 L1373.0,1947.0" stroke-width="1.83"/>
<path d="M1377.5,1938.0 L1381.1,1943.4" stroke-width="1.83"/>
<path d="M1345.4,1981.8 L1340.0,2005.0 L1338.2,2031.8 L1340.0,2049.6 L1336.4,2060.4" stroke-width="1.83"/>
<path d="M1348.9,1985.4 L1345.4,2005.0 L1343.6,2033.6 L1347.1,2040.7 L1343.6,2051.4 L1338.2,2062.1" stroke-width="1.83"/>
<path d="M1361.4,1998.8 L1361.4,2040.7 L1357.9,2051.4 L1350.7,2058.6 L1332.9,2067.5 L1320.4,2074.6" stroke-width="1.83"/>
<ellipse cx="1345.4" cy="2037.1" rx="3.9" ry="6.2" transform="rotate(-15 1345.4 2037.1)" stroke-width="1.83"/>
<path d="M1336.4,2060.4 L1322.1,2072.9 L1306.1,2081.8 L1281.1,2130.0" stroke-width="1.83"/>
<path d="M1320.4,2074.6 L1318.6,2083.6 L1300.7,2117.5 L1293.6,2126.4 L1275.7,2133.6 L1263.2,2133.6 L1256.1,2128.2" stroke-width="1.83"/>
<path d="M1302.5,2083.6 L1279.3,2130.0" stroke-width="1.83"/>
<ellipse cx="1308.8" cy="1993.4" rx="8.0" ry="11.6" transform="rotate(-20 1308.8 1993.4)" stroke-width="1.83"/>
<ellipse cx="1307.9" cy="1994.3" rx="4.6" ry="7.1" transform="rotate(-20 1307.9 1994.3)" stroke-width="3.05"/>
<path d="M1302.5,1981.8 C1304.0,1981.2 1308.5,1977.9 1311.4,1978.2 C1314.4,1978.5 1318.3,1980.9 1320.4,1983.6 C1322.4,1986.2 1323.6,1991.0 1323.9,1994.3 C1324.2,1997.6 1322.4,2001.7 1322.1,2003.2" stroke-width="1.83"/>
<path d="M1313.2,2005.9 L1325.7,2005.0 L1336.4,1987.1 L1347.1,1971.1" stroke-width="1.83"/>
<path d="M1293.6,1969.3 L1298.9,1987.1" stroke-width="1.83"/>
<path d="M1316.8,1963.9 L1329.3,1994.3" stroke-width="1.83"/>
<ellipse cx="1253.4" cy="2007.7" rx="8.0" ry="11.6" transform="rotate(-20 1253.4 2007.7)" stroke-width="1.83"/>
<ellipse cx="1252.9" cy="2008.6" rx="4.6" ry="7.1" transform="rotate(-20 1252.9 2008.6)" stroke-width="3.05"/>
<path d="M1247.1,1996.1 C1248.9,1995.8 1254.6,1993.1 1257.9,1994.3 C1261.1,1995.5 1265.0,1999.6 1266.8,2003.2 C1268.6,2006.8 1268.3,2013.6 1268.6,2015.7" stroke-width="1.83"/>
<path d="M1257.9,2021.1 L1273.9,2019.3 L1281.1,2008.6 L1282.9,2005.0" stroke-width="1.83"/>
<path d="M1240.0,1978.2 L1263.2,1977.3" stroke-width="1.83"/>
<path d="M1265.0,1978.2 C1266.8,1978.5 1272.1,1980.9 1275.7,1980.0 C1279.3,1979.1 1283.5,1974.6 1286.4,1972.9 C1289.4,1971.1 1292.4,1969.9 1293.6,1969.3" stroke-width="1.83"/>
<path d="M1272.1,1977.3 L1281.1,1978.2 L1291.8,1971.1" stroke-width="3.05"/>
<path d="M1252.5,1985.4 L1257.9,1994.3" stroke-width="1.83"/>
<path d="M1263.2,1980.0 L1270.4,1997.9" stroke-width="1.83"/>
<path d="M1275.7,1987.1 L1282.9,1992.5" stroke-width="1.83"/>
<ellipse cx="1297.1" cy="2020.2" rx="2.7" ry="4.5" transform="rotate(-20 1297.1 2020.2)" stroke-width="1.83"/>
<path d="M1277.5,2022.0 L1329.3,2052.3" stroke-width="1.83"/>
<path d="M1288.2,2024.6 C1288.8,2025.8 1289.7,2030.0 1291.8,2031.8 C1293.9,2033.6 1298.3,2035.2 1300.7,2035.4 C1303.1,2035.5 1305.2,2033.1 1306.1,2032.7" stroke-width="1.83"/>
<path d="M1240.0,2039.8 L1300.7,2073.8" stroke-width="1.83"/>
<path d="M1240.0,2026.4 L1247.1,2012.1" stroke-width="1.83"/>
<path d="M1240.0,2074.6 C1241.8,2074.9 1247.1,2074.3 1250.7,2076.4 C1254.3,2078.5 1258.2,2082.7 1261.4,2087.1 C1264.7,2091.6 1268.3,2097.9 1270.4,2103.2 C1272.4,2108.6 1273.9,2115.4 1273.9,2119.3 C1273.9,2123.2 1271.0,2125.2 1270.4,2126.4" stroke-width="3.05"/>
<path d="M1240.0,2078.2 C1241.5,2078.5 1246.0,2078.2 1248.9,2080.0 C1251.9,2081.8 1254.9,2084.8 1257.9,2088.9 C1260.8,2093.1 1265.0,2099.9 1266.8,2105.0 C1268.6,2110.1 1268.3,2116.9 1268.6,2119.3" stroke-width="1.83"/>
<path d="M1240.0,2138.0 L1256.1,2128.2" stroke-width="1.83"/>
<path d="M1257.9,2130.0 L1266.8,2121.1 L1272.1,2122.9" stroke-width="1.83"/>
</g>
<g id="23_n">
<path d="M1560.7,1902.0 L1651.8,1910.9" stroke-width="1.83"/>
<path d="M1637.5,1877.9 L1651.8,1877.0" stroke-width="1.83"/>
<ellipse cx="1660.4" cy="1893.9" rx="12.1" ry="17.0" transform="rotate(8 1660.4 1893.9)" stroke-width="4.27"/>
<path d="M1641.1,1874.3 C1641.2,1873.5 1640.8,1870.6 1642.0,1869.8 C1643.2,1869.1 1646.9,1868.9 1648.2,1869.8 C1649.6,1870.7 1649.7,1874.3 1650.0,1875.2" stroke-width="1.83"/>
<path d="M1526.8,1900.0 L1530.4,1898.4 L1537.5,1902.9" stroke-width="3.05"/>
<path d="M1552.7,1900.0 L1557.1,1902.0 L1561.6,1907.3 L1538.4,1920.7" stroke-width="3.05"/>
<path d="M1514.3,1917.1 L1533.9,1906.4" stroke-width="1.83"/>
<ellipse class="f" cx="1531.2" cy="1917.1" rx="5.4" ry="1.8" stroke-width="1.83"/>
<path d="M1500.0,1881.4 L1514.3,1882.3" stroke-width="1.83"/>
<path d="M1500.0,1902.9 L1512.5,1903.8" stroke-width="1.83"/>
<path d="M1686.6,1882.3 L1698.2,1910.0 L1702.7,1913.6 L1714.3,1911.8 L1737.5,1901.1 L1735.7,1896.6 L1726.8,1896.6 L1717.0,1906.4" stroke-width="1.83"/>
<path d="M1701.8,1871.6 L1714.3,1906.4" stroke-width="1.83"/>
<path d="M1705.4,1870.7 L1717.0,1904.6" stroke-width="1.83"/>
<path d="M1673.6,1886.8 L1700.0,1872.5 L1719.6,1860.0" stroke-width="1.83"/>
<ellipse class="f" cx="1723.2" cy="1902.0" rx="5.4" ry="1.8" transform="rotate(-20 1723.2 1902.0)" stroke-width="1.83"/>
<path d="M1651.8,1863.6 L1660.7,1860.0" stroke-width="1.83"/>
</g>
<g id="24_uhook">
<path d="M1641.4,1745.7 L1641.4,1715.0" stroke-width="2.44"/>
<path d="M1641.4,1715.0 C1641.9,1713.7 1641.7,1709.3 1644.3,1707.1 C1646.9,1705.0 1653.6,1703.0 1657.1,1702.1 C1660.7,1701.2 1663.7,1701.1 1665.7,1701.7 C1667.7,1702.3 1668.7,1705.0 1669.3,1705.7" stroke-width="2.44"/>
<path d="M1669.3,1705.7 L1669.3,1735.7" stroke-width="2.44"/>
<path d="M1648.6,1743.6 L1648.6,1717.1" stroke-width="2.44"/>
<path d="M1648.6,1717.1 C1649.0,1716.4 1649.8,1714.2 1651.4,1712.9 C1653.1,1711.5 1656.7,1710.0 1658.6,1709.3 C1660.4,1708.6 1661.9,1708.7 1662.6,1708.6" stroke-width="2.44"/>
<path d="M1662.6,1708.6 L1662.9,1732.9 L1648.6,1731.4" stroke-width="2.44"/>
<path d="M1621.4,1745.0 L1641.4,1745.7" stroke-width="2.44"/>
<path d="M1620.7,1745.7 L1622.9,1750.0 L1641.4,1751.4 L1646.4,1749.3 L1648.6,1743.6" stroke-width="2.44"/>
<path d="M1624.3,1734.3 L1640.7,1735.7" stroke-width="2.44"/>
<path d="M1669.3,1735.7 L1650.0,1734.6" stroke-width="2.44"/>
</g>
<g id="30_patch1">
<rect x="1300" y="1760" width="200" height="200" style="fill:#fff;stroke:none"/>
<path d="M1300.0,1771.0 L1319.0,1760.6" stroke-width="1.83"/>
<path d="M1319.6,1760.0 C1320.6,1761.8 1324.4,1766.7 1325.6,1770.7 C1326.8,1774.7 1325.1,1779.2 1326.8,1783.8 C1328.5,1788.4 1333.2,1794.7 1335.7,1798.1 C1338.2,1801.5 1340.7,1803.1 1341.7,1804.0" stroke-width="1.83"/>
<path d="M1308.9,1773.1 C1309.6,1775.5 1311.0,1783.0 1313.1,1787.4 C1315.2,1791.7 1318.1,1795.7 1321.4,1799.3 C1324.8,1802.9 1329.4,1806.6 1333.3,1808.8 C1337.3,1811.0 1341.9,1811.8 1345.2,1812.4 C1348.6,1813.0 1352.2,1812.4 1353.6,1812.4" stroke-width="2.44"/>
<path d="M1313.1,1771.3 C1314.1,1773.4 1316.3,1779.3 1319.0,1783.8 C1321.8,1788.3 1326.2,1794.7 1329.8,1798.1 C1333.3,1801.5 1335.9,1802.8 1340.5,1804.0 C1345.0,1805.3 1350.4,1805.4 1357.1,1805.8 C1363.9,1806.2 1377.0,1806.3 1381.0,1806.4" stroke-width="1.83"/>
<path d="M1300.0,1779.0 L1307.1,1773.1 L1309.5,1776.7" stroke-width="1.83"/>
<path d="M1307.1,1773.1 L1315.5,1762.4" stroke-width="1.83"/>
<path d="M1313.1,1770.7 L1320.2,1782.6 L1325.0,1775.5" stroke-width="1.83"/>
<path d="M1300.0,1800.5 L1306.0,1795.7" stroke-width="1.83"/>
<path d="M1354.8,1807.0 L1354.8,1818.3" stroke-width="1.83"/>
<path d="M1358.3,1807.6 L1371.4,1807.0" stroke-width="2.68"/>
<path d="M1300.0,1817.1 C1301.0,1816.3 1303.6,1813.0 1306.0,1812.4 C1308.3,1811.8 1311.3,1813.0 1314.3,1813.6 C1317.3,1814.2 1320.6,1814.2 1323.8,1816.0 C1327.0,1817.7 1330.8,1821.3 1333.3,1824.3 C1335.9,1827.3 1337.9,1831.0 1339.3,1833.8 C1340.7,1836.6 1341.3,1839.8 1341.7,1841.0" stroke-width="1.83"/>
<path d="M1300.0,1831.4 L1304.8,1845.7 L1311.9,1850.5" stroke-width="1.83"/>
<path d="M1314.3,1817.1 C1315.9,1817.5 1321.0,1817.9 1323.8,1819.5 C1326.6,1821.1 1329.0,1823.9 1331.0,1826.7 C1332.9,1829.4 1334.9,1834.6 1335.7,1836.2" stroke-width="1.83"/>
<ellipse cx="1311.9" cy="1831.4" rx="5.4" ry="4.2" transform="rotate(20 1311.9 1831.4)" stroke-width="3.05"/>
<path d="M1300.0,1849.3 L1307.1,1848.1 L1316.7,1851.7 L1317.3,1856.4" stroke-width="1.83"/>
<path d="M1317.9,1849.3 C1319.4,1848.7 1324.4,1845.3 1327.4,1845.7 C1330.4,1846.1 1333.5,1849.3 1335.7,1851.7 C1337.9,1854.0 1339.3,1857.4 1340.5,1860.0 C1341.7,1862.6 1342.5,1866.0 1342.9,1867.1" stroke-width="1.83"/>
<ellipse cx="1329.8" cy="1863.6" rx="3.0" ry="4.2" transform="rotate(-20 1329.8 1863.6)" stroke-width="2.44"/>
<path d="M1340.5,1824.3 L1344.0,1821.3 L1347.6,1824.3 L1345.2,1830.2 L1341.7,1829.0Z" stroke-width="2.68"/>
<path d="M1350.0,1824.3 C1351.2,1823.3 1354.4,1819.7 1357.1,1818.3 C1359.9,1816.9 1364.3,1815.6 1366.7,1816.0 C1369.0,1816.3 1370.4,1818.9 1371.4,1820.7 C1372.4,1822.5 1372.4,1825.7 1372.6,1826.7" stroke-width="1.83"/>
<path d="M1335.7,1843.3 L1378.6,1823.1" stroke-width="1.83"/>
<path d="M1335.7,1843.3 L1339.3,1848.7 L1358.3,1842.1" stroke-width="1.83"/>
<path d="M1338.1,1851.7 L1359.5,1851.7" stroke-width="1.83"/>
<path d="M1359.5,1839.8 L1359.5,1858.8 L1376.2,1861.8 L1410.7,1863.6" stroke-width="1.83"/>
<path d="M1359.5,1839.8 L1381.0,1827.9" stroke-width="1.83"/>
<path d="M1360.7,1841.0 L1379.8,1850.5" stroke-width="1.83"/>
<path d="M1382.1,1842.1 C1381.9,1843.1 1380.6,1846.5 1381.0,1848.1 C1381.3,1849.7 1382.1,1851.3 1384.5,1851.7 C1386.9,1852.1 1392.9,1851.3 1395.2,1850.5 C1397.6,1849.7 1397.4,1846.7 1398.8,1846.9 C1400.2,1847.1 1402.8,1850.9 1403.6,1851.7" stroke-width="2.68"/>
<path d="M1382.1,1821.9 L1392.9,1815.4 L1406.5,1820.7 L1395.2,1826.7Z" stroke-width="1.83"/>
<path d="M1378.6,1823.1 L1382.1,1831.4 L1395.2,1826.7" stroke-width="1.83"/>
<ellipse class="f" cx="1390.5" cy="1833.8" rx="8.3" ry="3.3" transform="rotate(-20 1390.5 1833.8)" stroke-width="1.83"/>
<path d="M1381.0,1794.5 C1381.3,1793.5 1381.9,1789.6 1383.3,1788.6 C1384.7,1787.6 1387.3,1787.8 1389.3,1788.6 C1391.3,1789.4 1393.5,1791.3 1395.2,1793.3 C1397.0,1795.3 1398.6,1797.9 1400.0,1800.5 C1401.4,1803.1 1403.0,1807.4 1403.6,1808.8" stroke-width="3.05"/>
<path d="M1379.8,1800.5 L1390.5,1796.9 L1392.9,1807.6 L1383.3,1810.0Z" stroke-width="1.83"/>
<ellipse cx="1385.7" cy="1804.6" rx="2.4" ry="3.0" stroke-width="1.83"/>
<path d="M1381.0,1794.5 L1382.1,1807.6 L1384.5,1816.0" stroke-width="1.83"/>
<path d="M1394.0,1796.9 C1394.2,1797.9 1394.8,1801.1 1395.2,1802.9 C1395.6,1804.6 1396.2,1806.8 1396.4,1807.6" stroke-width="1.83"/>
<path d="M1403.6,1807.6 L1500.0,1760.0" stroke-width="1.83"/>
<path d="M1404.8,1805.2 L1416.7,1804.0" stroke-width="1.83"/>
<path d="M1423.8,1807.6 C1424.6,1807.0 1426.2,1804.6 1428.6,1804.0 C1431.0,1803.5 1435.7,1803.5 1438.1,1804.0 C1440.5,1804.6 1442.1,1807.0 1442.9,1807.6" stroke-width="1.83"/>
<path d="M1425.0,1810.0 C1426.0,1810.6 1428.4,1813.2 1431.0,1813.6 C1433.5,1814.0 1438.5,1813.4 1440.5,1812.4 C1442.5,1811.4 1442.5,1808.4 1442.9,1807.6" stroke-width="3.66"/>
<path d="M1442.9,1807.6 L1452.4,1808.8 L1451.2,1813.6 L1431.0,1824.3" stroke-width="1.83"/>
<path d="M1397.6,1816.0 C1399.2,1816.5 1403.6,1818.7 1407.1,1819.5 C1410.7,1820.3 1415.1,1821.1 1419.0,1820.7 C1423.0,1820.3 1429.0,1817.7 1431.0,1817.1" stroke-width="1.83"/>
<path d="M1407.1,1824.3 C1408.5,1823.9 1413.7,1821.5 1415.5,1821.9 C1417.3,1822.3 1417.3,1824.7 1417.9,1826.7 C1418.5,1828.7 1419.6,1831.4 1419.0,1833.8 C1418.5,1836.2 1415.9,1838.6 1414.3,1841.0 C1412.7,1843.3 1410.7,1845.9 1409.5,1848.1 C1408.3,1850.3 1407.5,1853.1 1407.1,1854.0" stroke-width="2.68"/>
<path d="M1431.0,1824.3 L1445.2,1825.5" stroke-width="3.66"/>
<path d="M1445.2,1824.9 C1446.6,1824.8 1451.8,1823.2 1453.6,1824.3 C1455.4,1825.4 1455.6,1830.2 1456.0,1831.4" stroke-width="3.66"/>
<path d="M1456.0,1831.4 L1457.1,1852.9 L1453.6,1858.8 L1436.9,1861.2" stroke-width="3.66"/>
<path d="M1436.9,1861.2 L1434.5,1869.5 L1431.0,1872.5 L1409.5,1871.9 L1407.1,1868.3 L1409.5,1863.6" stroke-width="3.66"/>
<path d="M1431.0,1836.2 L1429.8,1864.8" stroke-width="3.66"/>
<path d="M1409.5,1863.6 L1428.6,1865.4" stroke-width="2.68"/>
<path d="M1411.9,1850.5 L1428.6,1845.7 L1428.6,1836.2" stroke-width="2.68"/>
<path d="M1411.9,1850.5 L1413.1,1863.6" stroke-width="2.68"/>
<path d="M1414.3,1857.6 L1427.4,1858.8" stroke-width="2.68"/>
<path d="M1435.7,1837.4 L1448.8,1830.2 L1450.0,1854.0 L1436.9,1851.7Z" stroke-width="2.68"/>
<path d="M1439.3,1838.6 L1447.0,1834.4 L1447.6,1850.5 L1439.3,1849.3" stroke-width="3.66"/>
<path d="M1431.0,1824.3 L1429.8,1836.2" stroke-width="1.83"/>
<path d="M1456.0,1795.1 L1492.9,1775.5 L1500.0,1772.5" stroke-width="1.83"/>
<path d="M1457.1,1800.5 L1471.4,1850.5 L1500.0,1836.2" stroke-width="1.83"/>
<path d="M1460.7,1800.5 L1478.6,1833.8" stroke-width="1.83"/>
<path d="M1465.5,1794.5 L1490.5,1781.4 L1495.2,1789.8 L1470.2,1804.0Z" stroke-width="2.44"/>
<ellipse class="f" cx="1491.7" cy="1812.4" rx="4.2" ry="4.2" stroke-width="1.83"/>
<path d="M1495.2,1775.5 L1500.0,1783.8" stroke-width="1.83"/>
<path d="M1484.5,1843.3 L1500.0,1858.8" stroke-width="1.83"/>
<path d="M1458.3,1838.6 L1471.4,1850.5" stroke-width="1.83"/>
<path d="M1300.0,1883.8 L1347.6,1886.2 L1381.0,1891.0 L1419.0,1874.9 L1500.0,1881.4" stroke-width="1.83"/>
<path d="M1453.6,1858.8 L1500.0,1866.0" stroke-width="1.83"/>
<path d="M1300.0,1907.6 L1334.5,1887.4" stroke-width="2.68"/>
<path d="M1300.0,1902.9 L1329.8,1886.8" stroke-width="1.83"/>
<path d="M1320.2,1895.7 L1331.0,1914.8" stroke-width="1.83"/>
<path d="M1326.2,1892.1 L1335.7,1912.4" stroke-width="1.83"/>
<path d="M1331.0,1888.6 L1336.9,1910.0" stroke-width="1.83"/>
<path d="M1347.6,1888.0 L1353.6,1902.9" stroke-width="1.83"/>
<path d="M1303.6,1916.0 L1317.9,1911.2 L1331.0,1914.8" stroke-width="1.83"/>
<path d="M1303.6,1916.0 L1304.8,1923.1" stroke-width="1.83"/>
<path d="M1300.0,1925.5 L1336.9,1910.0 L1381.0,1891.0" stroke-width="1.83"/>
<path d="M1383.3,1891.0 C1387.3,1890.6 1399.2,1889.2 1407.1,1888.6 C1415.1,1888.0 1425.0,1887.2 1431.0,1887.4 C1436.9,1887.6 1438.9,1888.2 1442.9,1889.8 C1446.8,1891.3 1451.2,1894.9 1454.8,1896.9 C1458.3,1898.9 1462.7,1900.9 1464.3,1901.7" stroke-width="1.83"/>
<path d="M1464.3,1901.7 L1500.0,1902.9" stroke-width="1.83"/>
<path d="M1466.7,1901.7 L1371.4,1938.6 L1317.9,1960.0" stroke-width="1.83"/>
<ellipse cx="1361.9" cy="1936.2" rx="3.6" ry="6.0" transform="rotate(-20 1361.9 1936.2)" stroke-width="1.83"/>
<path d="M1370.2,1938.6 L1373.8,1946.9" stroke-width="1.83"/>
<path d="M1377.4,1937.4 L1382.1,1945.7" stroke-width="1.83"/>
<path d="M1372.1,1947.9 L1359.5,1961.2" stroke-width="1.83"/>
<path d="M1372.1,1947.9 L1381.1,1944.3 L1395.4,1948.8" stroke-width="1.83"/>
<path d="M1395.4,1948.8 C1396.3,1949.7 1399.7,1952.4 1401.2,1954.0 C1402.7,1955.7 1403.5,1957.4 1404.3,1958.6 C1405.1,1959.8 1405.7,1960.8 1406.0,1961.2" stroke-width="2.44"/>
</g>
<g id="31_patch2">
<rect x="1140" y="1780" width="160" height="200" style="fill:#fff;stroke:none"/>
<path d="M1140.0,1784.2 C1145.0,1787.3 1159.8,1795.4 1169.8,1803.2 C1179.7,1811.1 1189.0,1821.2 1199.5,1831.2 C1210.0,1841.2 1224.3,1856.0 1232.9,1863.3 C1241.4,1870.7 1247.7,1873.3 1250.7,1875.2" stroke-width="1.83"/>
<path d="M1194.8,1780.0 L1234.0,1817.5" stroke-width="1.83"/>
<path d="M1234.0,1817.5 C1236.2,1819.6 1243.0,1826.3 1247.1,1830.0 C1251.3,1833.7 1255.1,1837.0 1259.0,1839.5 C1263.0,1842.0 1269.0,1844.0 1271.0,1844.9" stroke-width="1.83"/>
<path d="M1271.0,1844.9 L1280.5,1847.9 L1300.0,1849.0" stroke-width="1.83"/>
<path d="M1231.7,1819.3 C1231.5,1821.7 1229.9,1828.6 1230.5,1833.6 C1231.1,1838.5 1233.1,1844.3 1235.2,1849.0 C1237.4,1853.8 1240.7,1857.8 1243.6,1862.1 C1246.4,1866.5 1251.0,1873.1 1252.5,1875.2" stroke-width="1.83"/>
<path d="M1240.0,1821.7 C1241.6,1822.7 1246.7,1825.2 1249.5,1827.6 C1252.3,1830.0 1254.5,1833.6 1256.7,1836.0 C1258.8,1838.3 1261.6,1840.9 1262.6,1841.9" stroke-width="1.83"/>
<path d="M1244.8,1818.1 C1246.3,1818.3 1251.1,1817.7 1254.3,1819.3 C1257.5,1820.9 1261.2,1824.6 1263.8,1827.6 C1266.4,1830.6 1268.4,1834.4 1269.8,1837.1 C1271.2,1839.9 1271.7,1843.1 1272.1,1844.3" stroke-width="1.83"/>
<path d="M1257.9,1818.1 C1259.2,1819.3 1264.0,1822.9 1266.2,1825.2 C1268.4,1827.6 1269.6,1830.2 1271.0,1832.4 C1272.3,1834.6 1273.9,1837.3 1274.5,1838.3" stroke-width="1.83"/>
<path d="M1207.9,1789.5 L1225.7,1780.0" stroke-width="1.83"/>
<path d="M1196.5,1802.6 C1196.8,1801.8 1197.0,1798.9 1198.3,1797.9 C1199.6,1796.8 1202.1,1796.5 1204.3,1796.1 C1206.5,1795.7 1210.2,1795.6 1211.4,1795.5" stroke-width="1.83"/>
<path d="M1216.2,1796.7 L1221.0,1796.1 L1224.5,1799.6" stroke-width="1.83"/>
<path d="M1196.5,1802.6 L1198.3,1813.3 L1201.9,1830.0 L1200.7,1841.9 L1198.3,1850.2" stroke-width="1.83"/>
<path d="M1198.3,1850.2 C1198.3,1852.0 1197.5,1857.6 1198.3,1861.0 C1199.1,1864.3 1201.1,1868.3 1203.1,1870.5 C1205.1,1872.7 1209.0,1873.5 1210.2,1874.0" stroke-width="1.83"/>
<path d="M1210.2,1874.0 L1232.9,1863.3" stroke-width="2.68"/>
<ellipse cx="1209.0" cy="1812.7" rx="3.3" ry="6.0" transform="rotate(-15 1209.0 1812.7)" stroke-width="2.68"/>
<ellipse cx="1209.0" cy="1861.0" rx="3.3" ry="6.0" transform="rotate(-15 1209.0 1861.0)" stroke-width="2.68"/>
<path d="M1140.0,1881.8 L1207.9,1841.3" stroke-width="1.83"/>
<path d="M1234.0,1805.0 L1238.8,1805.6 L1241.2,1808.6 L1241.8,1812.1 L1237.6,1814.5" stroke-width="1.83"/>
<path d="M1230.5,1809.8 L1259.0,1795.5 L1299.5,1780.0" stroke-width="1.83"/>
<path d="M1259.0,1795.5 C1259.4,1796.5 1260.2,1799.4 1261.4,1801.4 C1262.6,1803.4 1264.6,1806.0 1266.2,1807.4 C1267.8,1808.8 1270.2,1809.4 1271.0,1809.8" stroke-width="1.83"/>
<path d="M1271.0,1809.8 L1282.9,1812.1 L1299.5,1818.1" stroke-width="1.83"/>
<path d="M1281.7,1807.4 L1298.3,1801.4 L1300.0,1800.5" stroke-width="1.83"/>
<path d="M1266.2,1791.9 C1268.0,1791.7 1273.1,1791.5 1276.9,1790.7 C1280.7,1789.9 1285.0,1788.9 1288.8,1787.1 C1292.6,1785.4 1297.7,1781.2 1299.5,1780.0" stroke-width="1.83"/>
<path d="M1284.0,1821.7 L1298.3,1821.7" stroke-width="1.83"/>
<path d="M1284.0,1821.7 L1292.4,1833.6 L1298.3,1847.9" stroke-width="1.83"/>
<path d="M1257.9,1848.5 L1257.9,1857.4" stroke-width="1.83"/>
<path d="M1250.7,1862.1 L1256.7,1858.0 L1263.8,1858.0 L1265.0,1863.3 L1268.6,1865.1 L1278.1,1858.6 L1285.2,1858.0 L1285.8,1865.7 L1284.6,1872.9 L1287.6,1876.4 L1274.5,1883.0" stroke-width="1.83"/>
<path d="M1250.7,1862.1 L1251.9,1870.5 L1255.5,1881.2 L1257.9,1889.5" stroke-width="1.83"/>
<ellipse cx="1261.4" cy="1875.2" rx="3.6" ry="6.5" transform="rotate(-10 1261.4 1875.2)" stroke-width="3.05"/>
<path d="M1269.8,1868.1 L1274.5,1882.4" stroke-width="1.83"/>
<path d="M1240.0,1878.8 L1250.7,1876.4" stroke-width="1.83"/>
<path d="M1243.6,1874.0 L1244.8,1883.6" stroke-width="1.83"/>
<path d="M1247.1,1872.9 L1248.3,1881.2" stroke-width="1.83"/>
<path d="M1232.9,1890.7 L1253.1,1880.0" stroke-width="1.83"/>
<path d="M1221.0,1880.0 L1228.1,1878.8 L1230.5,1882.4 L1231.7,1889.5" stroke-width="2.68"/>
<path d="M1287.6,1876.4 L1282.9,1883.6 L1241.2,1903.8" stroke-width="1.83"/>
<path d="M1244.8,1906.2 L1288.8,1884.8 L1300.0,1885.1" stroke-width="1.83"/>
<path d="M1274.5,1883.0 L1257.9,1890.7" stroke-width="1.83"/>
<path class="f" d="M1234.0,1902.6 L1241.2,1899.0 L1242.4,1906.2 L1235.2,1908.0Z" stroke-width="1.83"/>
<path d="M1190.0,1883.6 C1190.6,1882.8 1192.0,1880.1 1193.6,1878.8 C1195.2,1877.5 1197.3,1876.2 1199.5,1875.8 C1201.7,1875.4 1204.7,1875.9 1206.7,1876.4 C1208.7,1876.9 1210.6,1878.4 1211.4,1878.8" stroke-width="1.83"/>
<path d="M1190.0,1883.6 L1188.8,1894.3 L1190.0,1903.8 L1193.6,1911.0" stroke-width="1.83"/>
<path d="M1193.6,1883.6 C1194.6,1883.2 1197.3,1881.6 1199.5,1881.2 C1201.7,1880.8 1204.3,1880.4 1206.7,1881.2 C1209.0,1882.0 1211.4,1883.8 1213.8,1886.0 C1216.2,1888.1 1219.0,1891.3 1221.0,1894.3 C1222.9,1897.3 1224.3,1901.8 1225.7,1903.8 C1227.1,1905.8 1228.7,1905.8 1229.3,1906.2" stroke-width="1.83"/>
<ellipse cx="1206.7" cy="1891.9" rx="5.4" ry="3.3" transform="rotate(25 1206.7 1891.9)" stroke-width="3.05"/>
<path d="M1196.0,1884.8 L1199.5,1899.0 L1201.9,1908.6" stroke-width="1.83"/>
<path d="M1192.4,1886.0 L1194.8,1900.2" stroke-width="1.83"/>
<path d="M1211.4,1878.8 C1213.0,1880.2 1218.2,1883.8 1221.0,1887.1 C1223.7,1890.5 1226.1,1895.7 1228.1,1899.0 C1230.1,1902.4 1232.1,1906.0 1232.9,1907.4" stroke-width="1.83"/>
<path d="M1171.0,1886.0 C1171.7,1886.5 1173.9,1888.8 1175.7,1889.5 C1177.5,1890.2 1179.7,1890.5 1181.7,1890.1 C1183.7,1889.7 1186.6,1887.6 1187.6,1887.1" stroke-width="3.05"/>
<path d="M1171.0,1887.1 L1175.7,1900.2 L1178.1,1905.0 L1176.9,1914.5 L1171.0,1922.9 L1172.1,1931.2" stroke-width="1.83"/>
<path d="M1140.0,1886.0 L1151.9,1887.7 L1175.7,1900.2 L1199.5,1914.5" stroke-width="1.83"/>
<path d="M1140.0,1944.9 L1194.8,1909.8" stroke-width="1.83"/>
<path d="M1140.0,1951.4 L1163.8,1946.7 L1206.7,1920.5" stroke-width="1.83"/>
<path d="M1206.7,1911.0 C1207.1,1912.1 1208.3,1915.5 1209.0,1918.1 C1209.8,1920.7 1210.2,1923.7 1211.4,1926.4 C1212.6,1929.2 1215.4,1933.4 1216.2,1934.8" stroke-width="2.68"/>
<path d="M1201.9,1908.6 L1206.7,1911.0" stroke-width="1.83"/>
<ellipse cx="1222.1" cy="1918.7" rx="4.2" ry="5.4" stroke-width="1.83"/>
<path d="M1228.1,1918.7 L1235.2,1918.1" stroke-width="1.83"/>
<path d="M1230.5,1924.0 C1231.3,1924.3 1234.6,1925.0 1235.2,1925.8 C1235.8,1926.6 1235.0,1928.3 1234.0,1928.8 C1233.1,1929.3 1230.1,1928.8 1229.3,1928.8" stroke-width="1.83"/>
<ellipse class="f" cx="1205.5" cy="1921.7" rx="4.8" ry="2.1" transform="rotate(-30 1205.5 1921.7)" stroke-width="1.83"/>
<ellipse class="f" cx="1194.8" cy="1946.7" rx="4.5" ry="2.6" transform="rotate(-20 1194.8 1946.7)" stroke-width="1.83"/>
<ellipse cx="1204.9" cy="1945.5" rx="3.8" ry="6.0" transform="rotate(-15 1204.9 1945.5)" stroke-width="3.05"/>
<path d="M1211.4,1928.8 C1213.0,1929.8 1218.6,1931.8 1221.0,1934.8 C1223.3,1937.7 1225.3,1942.7 1225.7,1946.7 C1226.1,1950.6 1224.9,1955.6 1223.3,1958.6 C1221.7,1961.5 1219.0,1963.7 1216.2,1964.5 C1213.4,1965.3 1209.0,1963.9 1206.7,1963.3 C1204.3,1962.7 1202.7,1961.3 1201.9,1961.0" stroke-width="1.83"/>
<path d="M1213.8,1933.6 C1215.2,1934.8 1220.8,1937.3 1222.1,1940.7 C1223.5,1944.1 1223.1,1950.6 1222.1,1953.8 C1221.2,1957.0 1217.2,1958.8 1216.2,1959.8" stroke-width="1.83"/>
<path d="M1163.8,1946.7 L1185.2,1933.6 L1196.0,1928.8" stroke-width="1.83"/>
<path d="M1180.5,1944.3 L1211.4,1933.6" stroke-width="1.83"/>
<path d="M1173.3,1950.2 L1181.7,1958.6" stroke-width="1.83"/>
<path d="M1176.9,1949.0 L1184.0,1956.2" stroke-width="1.83"/>
<ellipse cx="1171.5" cy="1963.9" rx="3.3" ry="6.5" transform="rotate(-20 1171.5 1963.9)" stroke-width="3.05"/>
<path d="M1181.7,1963.3 C1182.7,1962.9 1186.0,1960.2 1187.6,1961.0 C1189.2,1961.7 1190.6,1964.9 1191.2,1968.1 C1191.8,1971.3 1191.2,1978.0 1191.2,1980.0" stroke-width="1.83"/>
<path d="M1187.6,1958.6 L1190.0,1980.0" stroke-width="1.83"/>
<path d="M1160.2,1977.6 L1165.0,1980.0" stroke-width="1.83"/>
<path d="M1241.2,1909.8 L1240.0,1926.4" stroke-width="3.05"/>
<path d="M1242.4,1909.8 L1300.0,1886.5" stroke-width="1.83"/>
<ellipse class="f" cx="1248.9" cy="1917.5" rx="2.6" ry="2.6" stroke-width="1.83"/>
<path d="M1256.7,1911.0 L1262.6,1909.2" stroke-width="2.68"/>
<path d="M1259.0,1911.0 C1259.0,1911.9 1259.8,1915.1 1259.0,1916.9 C1258.3,1918.7 1255.1,1920.9 1254.3,1921.7" stroke-width="1.83"/>
<path d="M1242.4,1927.6 L1300.0,1901.2" stroke-width="1.83"/>
<path d="M1249.5,1928.8 L1300.0,1913.6" stroke-width="1.83"/>
<path d="M1278.1,1928.8 L1300.0,1918.5" stroke-width="1.83"/>
<path d="M1280.5,1911.0 L1300.0,1902.4" stroke-width="2.68"/>
<path d="M1232.9,1937.1 L1241.2,1930.0 L1259.0,1929.4 L1280.5,1932.4 L1282.9,1934.8 L1281.7,1946.7 L1278.1,1953.8 L1244.8,1962.7 L1232.9,1937.1" stroke-width="1.83"/>
<ellipse cx="1250.7" cy="1943.1" rx="5.0" ry="9.3" transform="rotate(-20 1250.7 1943.1)" stroke-width="2.93"/>
<ellipse cx="1250.7" cy="1943.1" rx="7.4" ry="11.9" transform="rotate(-20 1250.7 1943.1)" stroke-width="1.83"/>
<path d="M1260.2,1933.6 L1271.0,1955.0" stroke-width="1.83"/>
<path d="M1282.9,1932.4 L1300.0,1924.5" stroke-width="1.83"/>
<path d="M1223.3,1980.0 L1259.0,1975.2 L1293.6,1969.3" stroke-width="3.05"/>
<path d="M1293.6,1969.3 L1300.0,1966.9" stroke-width="1.83"/>
<path d="M1293.6,1970.5 L1297.1,1980.0" stroke-width="1.83"/>
</g>
<g id="32_patch3">
<rect x="1670" y="1720" width="180" height="180" style="fill:#fff;stroke:none"/>
<path d="M1670.0,1738.8 L1730.0,1743.4" stroke-width="2.07"/>
<path d="M1670.0,1765.5 L1720.4,1769.5" stroke-width="2.07"/>
<path d="M1670.0,1781.6 L1673.2,1778.7 L1678.6,1778.4 L1723.6,1782.1" stroke-width="2.07"/>
<path d="M1716.1,1751.1 L1730.0,1743.4 L1741.8,1736.6 L1749.3,1735.5 L1758.9,1735.9 L1850.0,1742.5" stroke-width="2.07"/>
<path d="M1716.1,1751.1 L1717.7,1756.4 L1723.6,1777.9 L1728.9,1780.5" stroke-width="2.07"/>
<path d="M1717.7,1752.1 L1751.4,1752.1 L1757.9,1755.4 L1761.1,1762.9 L1779.3,1766.1" stroke-width="2.07"/>
<path d="M1717.1,1755.4 L1750.4,1754.8 L1755.7,1758.0 L1758.9,1764.5 L1778.2,1767.7" stroke-width="2.07"/>
<path d="M1720.4,1756.4 L1725.7,1778.9" stroke-width="2.07"/>
<path d="M1740.2,1756.4 L1741.8,1771.4 L1738.6,1773.6 L1730.0,1780.0" stroke-width="2.07"/>
<path d="M1730.0,1780.0 L1738.6,1783.2 L1743.9,1781.1" stroke-width="2.07"/>
<path d="M1732.1,1778.4 L1743.9,1777.9" stroke-width="2.07"/>
<ellipse cx="1741.8" cy="1745.2" rx="8.0" ry="2.1" transform="rotate(-15 1741.8 1745.2)" stroke-width="2.07"/>
<ellipse cx="1774.5" cy="1754.8" rx="8.0" ry="2.1" transform="rotate(-15 1774.5 1754.8)" stroke-width="2.07"/>
<ellipse cx="1773.4" cy="1781.1" rx="7.5" ry="2.1" transform="rotate(-20 1773.4 1781.1)" stroke-width="2.68"/>
<ellipse cx="1760.0" cy="1797.7" rx="16.1" ry="3.2" transform="rotate(3 1760.0 1797.7)" stroke-width="2.07"/>
<path d="M1751.4,1798.8 L1769.6,1799.5" stroke-width="2.44"/>
<ellipse cx="1755.7" cy="1808.9" rx="4.8" ry="2.4" transform="rotate(-5 1755.7 1808.9)" stroke-width="2.07"/>
<ellipse cx="1755.7" cy="1808.9" rx="1.9" ry="1.0" transform="rotate(-5 1755.7 1808.9)" stroke-width="2.07"/>
<path d="M1780.4,1757.5 L1803.9,1745.2 L1808.2,1744.1 L1828.6,1747.3 L1829.6,1751.1 L1825.4,1755.4 L1824.3,1765.0 L1825.4,1771.4 L1827.5,1773.6 L1812.5,1783.2 L1802.9,1784.3 L1785.7,1781.1 L1781.4,1775.7 L1780.4,1757.5" stroke-width="2.44"/>
<path d="M1793.2,1757.5 L1822.1,1757.5 L1824.3,1774.6 L1812.5,1783.2 L1799.6,1782.1 L1792.1,1766.1Z" stroke-width="3.05"/>
<path d="M1799.6,1753.2 L1810.4,1748.4 L1824.3,1750.0" stroke-width="2.07"/>
<path d="M1798.6,1760.7 L1808.2,1760.2 L1809.3,1768.2 L1806.1,1769.8 L1799.6,1768.8 L1797.5,1765.0Z" stroke-width="2.07"/>
<path d="M1809.3,1762.9 L1822.1,1763.9" stroke-width="2.07"/>
<path d="M1809.3,1768.2 L1823.2,1770.4" stroke-width="2.07"/>
<ellipse class="f" cx="1815.7" cy="1752.1" rx="5.6" ry="2.8" stroke-width="2.07"/>
<path d="M1781.4,1766.1 L1792.1,1766.1" stroke-width="2.07"/>
<path d="M1781.4,1775.7 L1792.1,1775.7" stroke-width="2.44"/>
<path d="M1683.9,1816.4 L1710.7,1799.3 L1715.0,1798.8 L1732.1,1801.4 L1736.4,1805.7 L1732.1,1810.0 L1727.9,1812.1 L1730.0,1822.9 L1732.1,1829.3 L1716.1,1838.9 L1705.4,1838.9 L1688.2,1835.7 L1683.9,1829.3 L1683.9,1816.4" stroke-width="2.44"/>
<path d="M1696.8,1812.1 L1725.7,1812.1 L1730.0,1828.2 L1716.1,1837.9 L1704.3,1836.8 L1697.9,1821.8Z" stroke-width="3.05"/>
<path d="M1704.3,1808.9 L1716.1,1803.6 L1731.1,1804.6" stroke-width="2.07"/>
<path d="M1702.1,1815.4 L1712.9,1814.8 L1713.9,1822.9 L1709.6,1825.0 L1703.2,1823.9 L1701.1,1819.6Z" stroke-width="2.07"/>
<path d="M1713.9,1818.6 L1726.8,1819.6" stroke-width="2.07"/>
<path d="M1713.9,1822.9 L1727.9,1825.0" stroke-width="2.07"/>
<ellipse class="f" cx="1721.4" cy="1806.3" rx="5.6" ry="2.6" stroke-width="2.07"/>
<path d="M1685.0,1822.9 L1696.8,1821.8" stroke-width="2.07"/>
<path d="M1688.2,1831.4 L1698.9,1827.1" stroke-width="2.44"/>
<path d="M1726.8,1800.4 L1778.2,1771.4" stroke-width="2.07"/>
<path d="M1734.3,1827.1 L1801.8,1790.7 L1803.9,1787.0" stroke-width="2.07"/>
<path d="M1670.0,1833.6 L1683.9,1826.1" stroke-width="2.07"/>
<path d="M1670.0,1853.9 L1701.1,1840.5" stroke-width="2.07"/>
<path d="M1825.4,1765.0 L1850.0,1746.8" stroke-width="2.07"/>
<path d="M1670.0,1888.2 L1687.1,1880.7 L1702.1,1870.0 L1745.0,1844.3 L1796.4,1814.3 L1812.5,1804.6 L1850.0,1786.4" stroke-width="2.07"/>
<path d="M1796.4,1814.3 L1809.3,1846.4 L1792.1,1858.2 L1793.2,1863.6 L1796.4,1864.6 L1809.3,1860.4 L1829.6,1848.6 L1828.6,1842.1 L1814.6,1804.6" stroke-width="2.07"/>
<path d="M1811.4,1805.7 L1825.4,1844.3 L1813.6,1845.4" stroke-width="2.07"/>
<ellipse class="f" cx="1805.0" cy="1855.0" rx="5.4" ry="1.5" transform="rotate(-25 1805.0 1855.0)" stroke-width="2.07"/>
<path d="M1687.1,1880.7 L1694.6,1900.0" stroke-width="2.07"/>
<path d="M1700.0,1872.1 L1710.7,1900.0" stroke-width="2.07"/>
<path d="M1703.2,1870.0 L1713.9,1900.0" stroke-width="2.07"/>
<path d="M1718.2,1900.0 C1719.1,1899.5 1721.6,1897.5 1723.6,1896.8 C1725.5,1896.1 1728.0,1895.7 1730.0,1895.7 C1732.0,1895.7 1733.9,1896.1 1735.4,1896.8 C1736.8,1897.5 1738.0,1899.5 1738.6,1900.0" stroke-width="2.68"/>
<path d="M1670.0,1880.7 L1673.2,1887.1 L1674.3,1900.0" stroke-width="3.05"/>
</g>
</g>
<g id="labels" font-size="34" stroke="#000" stroke-width="1.6" stroke-linejoin="round" letter-spacing="6.05" opacity="0.999">
<text transform="translate(1030.8,519.8) scale(0.89,1)">92066</text>
<text transform="translate(1018.8,582.8) scale(0.89,1)">92153</text>
<text transform="translate(978.8,651.8) scale(0.89,1)">92200<tspan dx="-4">A</tspan></text>
<text transform="translate(949.8,720.8) scale(0.89,1)">92210</text>
<text transform="translate(915.8,785.8) scale(0.89,1)">92200</text>
<text transform="translate(885.8,844.3) scale(0.89,1)">92210<tspan dx="-4">A</tspan></text>
<text transform="translate(868.8,921.8) scale(0.89,1)">92049<tspan dx="-4">A</tspan></text>
<text transform="translate(865.8,1050.8) scale(0.89,1)">92045</text>
<text transform="translate(536.3,1747.3) scale(0.89,1)">92045</text>
<text transform="translate(364.8,1882.8) scale(0.89,1)">92049</text>
<text transform="translate(1314.8,1619.8) scale(0.89,1)">32160</text>
<text transform="translate(1817.5,352) scale(0.89,1)" font-size="27" letter-spacing="4.2" stroke-width="1.1">F2120</text>
<text transform="translate(256.5,428) skewY(29.7) scale(0.44,1)" font-size="45" font-weight="bold" letter-spacing="0" stroke="#000" stroke-width="0.8" text-rendering="geometricPrecision" x="0 50.5 99.5 150.5 203">FRONT</text>
</g>

</svg>
</body>
</html>
